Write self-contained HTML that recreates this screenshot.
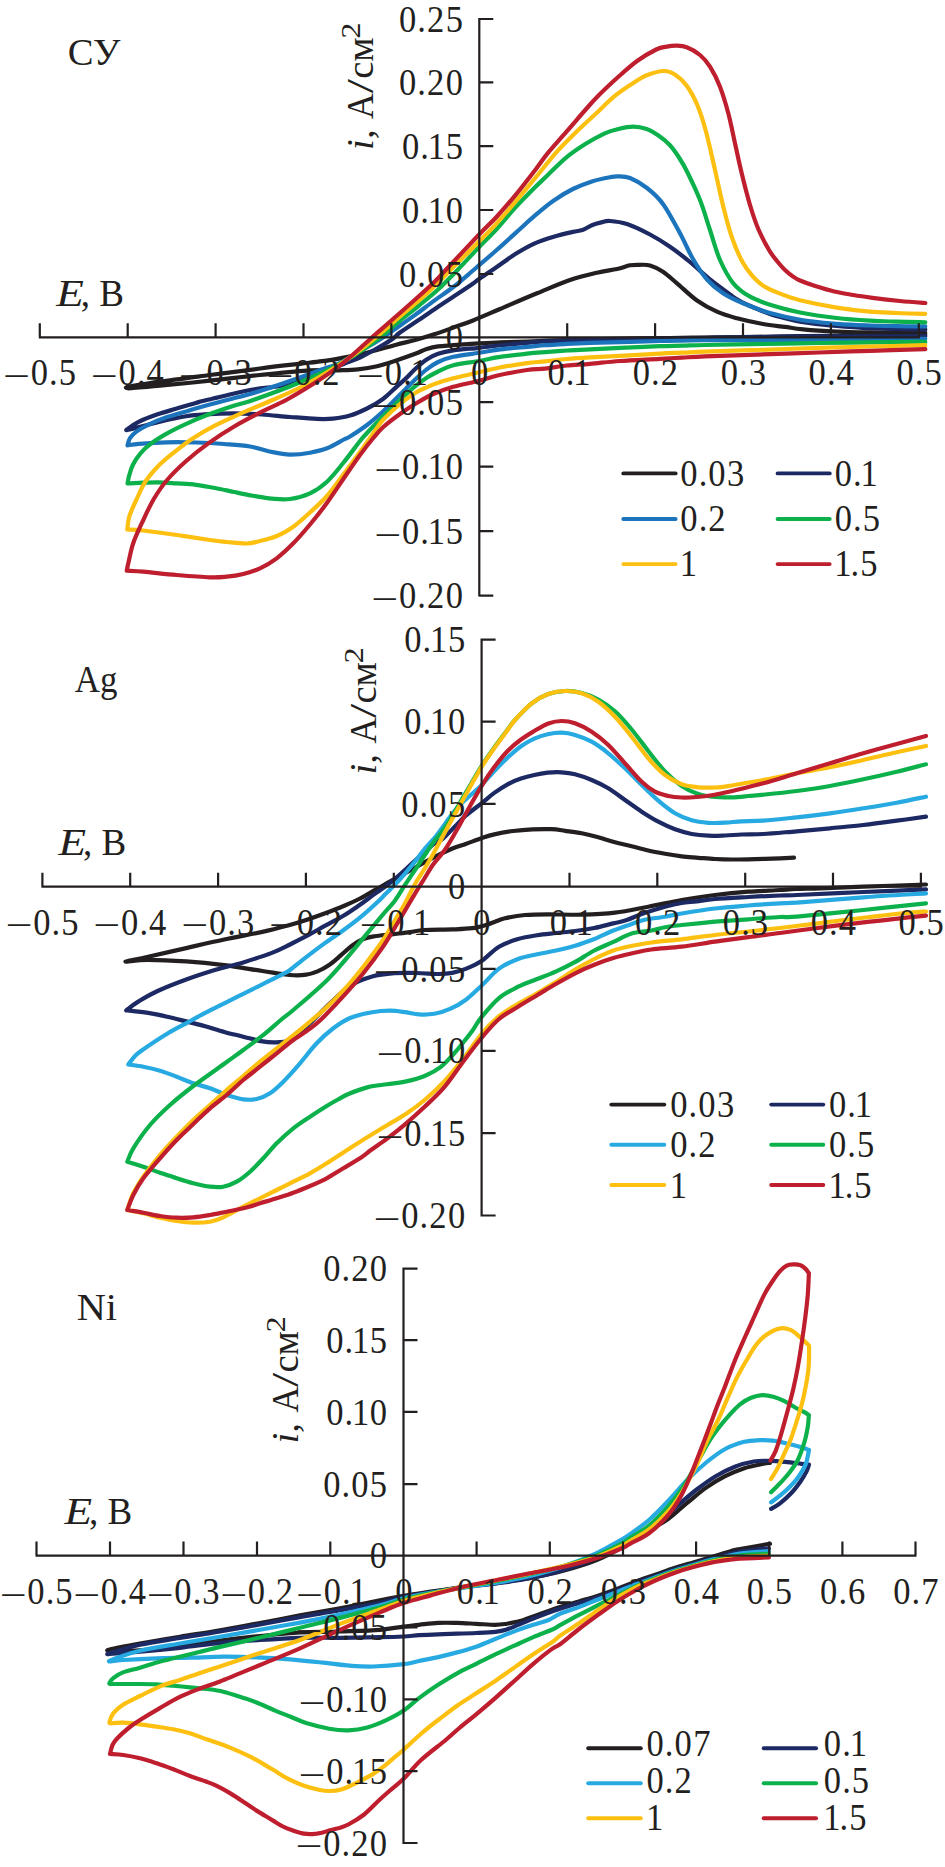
<!DOCTYPE html>
<html lang="ru">
<head>
<meta charset="utf-8">
<title>ЦВА: СУ, Ag, Ni</title>
<style>
html,body{margin:0;padding:0;background:#fff}
body{width:945px;height:1867px;overflow:hidden}
svg{display:block}
text{font-family:"Liberation Serif","Times New Roman",serif;font-size:38.8px;fill:#231f20}
.i{font-style:italic}
.ax{fill:none;stroke:#231f20;stroke-width:2.2}
.cv{fill:none;stroke-width:4.2;stroke-linecap:round;stroke-linejoin:round}
.lg{fill:none;stroke-width:3.9;stroke-linecap:round}
</style>
</head>
<body>
<svg width="945" height="1867" viewBox="0 0 945 1867">
<rect width="945" height="1867" fill="#fff"/>
<g id="chart1">
<path class="cv" stroke="#231f20" d="M925.3 334.8C916.1 334.9 890.9 335.2 870.0 335.4C849.1 335.6 821.2 335.9 800.0 336.2C778.8 336.5 758.8 336.8 743.0 337.0C727.2 337.2 717.2 337.3 705.0 337.5C692.8 337.7 685.0 337.8 670.0 338.0C655.0 338.2 631.7 338.5 615.0 338.8C598.3 339.1 583.7 339.4 570.0 339.8C556.3 340.2 544.7 340.9 533.0 341.3C521.3 341.7 509.0 342.1 500.0 342.4C491.0 342.7 486.8 342.8 479.0 343.3C471.2 343.8 460.1 344.7 453.3 345.2C446.5 345.7 442.5 345.8 438.1 346.4C433.7 347.0 430.5 347.8 426.7 349.0C422.9 350.2 420.3 351.9 415.2 353.8C410.1 355.7 402.5 358.4 396.2 360.5C389.9 362.6 383.5 364.7 377.1 366.2C370.8 367.7 364.5 368.7 358.1 369.4C351.8 370.1 347.0 370.1 339.0 370.3C331.0 370.5 323.2 369.5 310.0 370.3C296.8 371.1 276.7 373.3 260.0 375.0C243.3 376.7 226.7 378.9 210.0 380.7C193.3 382.5 173.6 384.4 160.0 385.7C146.4 387.0 133.6 387.9 128.3 388.3C128.3 388.1 123.0 387.9 128.3 386.8C133.6 385.7 146.4 383.7 160.0 381.7C173.6 379.7 193.3 377.2 210.0 375.0C226.7 372.8 245.0 370.4 260.0 368.5C275.0 366.6 289.6 365.0 300.0 363.8C310.4 362.6 315.1 362.2 322.3 361.2C329.6 360.2 337.2 358.8 343.5 357.6C349.8 356.5 354.4 355.6 360.0 354.3C365.6 353.0 371.0 351.6 377.0 350.0C383.0 348.4 389.8 346.4 396.2 344.7C402.6 343.0 408.8 341.7 415.2 340.0C421.6 338.3 427.9 336.4 434.3 334.3C440.7 332.2 447.0 329.9 453.3 327.6C459.6 325.3 464.6 323.8 472.4 320.7C480.2 317.6 489.2 313.6 500.0 309.0C510.8 304.4 525.3 298.1 537.0 293.3C548.7 288.5 560.0 283.4 570.0 280.0C580.0 276.6 589.2 274.5 597.0 272.7C604.8 270.9 611.5 270.2 617.0 269.0C622.5 267.8 626.2 266.0 630.0 265.3C633.8 264.6 636.7 264.8 640.0 264.8C643.3 264.8 646.2 264.4 650.0 265.5C653.8 266.6 658.5 268.7 663.0 271.7C667.5 274.7 671.3 278.5 677.0 283.3C682.7 288.1 690.3 295.8 697.0 300.5C703.7 305.2 710.3 308.7 717.0 311.7C723.7 314.7 729.3 316.2 737.0 318.3C744.7 320.4 755.0 322.6 763.0 324.0C771.0 325.4 778.3 326.0 785.0 326.9C791.7 327.8 794.3 328.5 803.0 329.3C811.7 330.1 825.8 331.0 837.0 331.5C848.2 332.0 860.0 332.2 870.0 332.4C880.0 332.6 887.8 332.6 897.0 332.7C906.2 332.8 920.6 332.8 925.3 332.8"/>
<path class="cv" stroke="#1c2962" d="M925.3 336.2C916.1 336.2 887.7 336.3 870.0 336.3C852.3 336.3 839.0 336.2 819.0 336.4C799.0 336.5 769.0 336.9 750.0 337.2C731.0 337.4 716.3 337.7 705.0 337.9C693.7 338.1 696.2 337.9 682.0 338.2C667.8 338.5 639.2 339.1 620.0 339.5C600.8 339.9 579.5 340.4 567.0 340.7C554.5 341.0 551.7 341.0 545.0 341.4C538.3 341.8 534.7 342.1 527.0 342.8C519.3 343.5 506.6 344.7 498.6 345.5C490.6 346.3 486.7 347.0 479.1 347.8C471.6 348.6 460.1 349.3 453.3 350.3C446.5 351.3 442.5 352.3 438.1 353.8C433.7 355.3 430.5 357.0 426.7 359.5C422.9 362.0 418.7 365.8 415.2 369.0C411.7 372.2 408.9 375.6 405.7 378.6C402.5 381.6 400.0 383.7 396.2 387.1C392.4 390.5 387.9 395.4 383.0 399.0C378.1 402.6 372.5 405.8 367.0 408.5C361.5 411.2 355.7 413.8 350.0 415.5C344.3 417.2 338.5 418.0 333.0 418.6C327.5 419.2 324.2 419.2 317.0 418.9C309.8 418.6 299.2 417.7 290.0 417.0C280.8 416.3 271.3 415.1 262.0 414.5C252.7 413.9 243.5 413.3 234.0 413.3C224.5 413.3 213.0 413.8 205.0 414.3C197.0 414.8 192.3 415.2 186.0 416.2C179.7 417.1 173.3 418.6 167.0 420.0C160.7 421.4 153.7 423.4 148.0 424.8C142.3 426.2 136.5 427.7 133.0 428.6C129.5 429.5 128.1 429.8 127.1 430.0C127.1 429.9 125.2 430.7 127.1 429.3C129.0 427.9 133.5 424.4 138.6 421.9C143.7 419.4 151.2 416.5 157.6 414.3C163.9 412.1 170.3 410.5 176.7 408.6C183.0 406.7 190.3 404.4 195.7 402.9C201.1 401.4 199.9 401.6 209.0 399.5C218.1 397.4 238.2 392.2 250.0 390.0C261.8 387.8 271.5 387.6 280.0 386.0C288.5 384.4 294.1 382.4 301.2 380.2C308.2 377.9 315.2 375.2 322.3 372.5C329.4 369.8 337.2 366.5 343.5 364.0C349.8 361.5 354.6 360.0 360.0 357.5C365.4 355.0 370.6 352.0 375.9 349.0C381.2 346.0 387.7 342.2 391.7 339.5C395.7 336.8 395.4 335.8 400.0 332.5C404.6 329.2 412.6 324.1 419.0 319.8C425.4 315.5 432.4 310.6 438.1 306.8C443.8 303.0 447.6 300.6 453.3 296.8C459.0 293.0 468.1 287.0 472.4 284.0C476.7 281.0 475.1 281.8 479.1 279.0C483.2 276.2 490.6 271.3 496.7 267.1C502.8 262.9 509.4 257.8 515.7 253.8C522.1 249.8 528.4 246.2 534.8 243.3C541.1 240.5 547.4 238.6 553.8 236.7C560.1 234.8 568.1 233.0 572.9 231.9C577.7 230.8 579.2 231.1 582.4 230.0C585.6 228.9 588.7 226.5 591.9 225.2C595.1 223.9 598.4 223.1 601.4 222.4C604.4 221.7 605.7 220.7 610.0 221.0C614.3 221.3 620.3 221.8 627.0 224.0C633.7 226.2 642.8 230.7 650.0 234.5C657.2 238.3 663.3 242.1 670.0 246.7C676.7 251.3 683.3 256.5 690.0 262.0C696.7 267.5 703.3 274.1 710.0 279.5C716.7 284.9 725.0 290.9 730.0 294.5C735.0 298.1 735.8 298.9 740.0 301.1C744.2 303.4 750.0 305.9 755.0 308.0C760.0 310.1 765.0 312.3 770.0 314.0C775.0 315.7 780.0 317.0 785.0 318.3C790.0 319.6 792.5 320.5 800.0 321.7C807.5 322.9 819.5 324.5 830.0 325.5C840.5 326.5 851.8 327.2 863.0 327.8C874.2 328.4 886.6 328.7 897.0 329.0C907.4 329.3 920.6 329.5 925.3 329.6"/>
<path class="cv" stroke="#1c75bc" d="M925.3 338.8C916.1 338.9 887.7 339.1 870.0 339.3C852.3 339.5 839.0 339.8 819.0 339.9C799.0 340.0 769.0 340.1 750.0 340.1C731.0 340.2 716.3 340.1 705.0 340.2C693.7 340.3 689.5 340.5 682.0 340.6C674.5 340.7 670.3 340.7 660.0 341.0C649.7 341.3 631.7 341.9 620.0 342.2C608.3 342.5 598.8 342.6 590.0 342.9C581.2 343.2 574.5 343.5 567.0 343.9C559.5 344.3 551.6 344.7 545.0 345.2C538.4 345.7 534.8 346.2 527.1 346.9C519.4 347.6 506.6 348.6 498.6 349.6C490.6 350.6 486.7 351.6 479.1 352.8C471.6 354.0 460.1 355.3 453.3 356.8C446.5 358.3 442.5 359.9 438.1 362.0C433.7 364.1 430.5 366.4 426.7 369.3C422.9 372.2 418.7 376.2 415.2 379.5C411.7 382.8 408.9 385.8 405.7 389.0C402.5 392.2 400.0 394.8 396.2 398.5C392.4 402.2 387.9 407.1 383.0 411.5C378.1 415.9 372.5 420.8 367.0 425.0C361.5 429.2 354.0 434.0 350.0 436.5C346.0 439.0 346.8 438.0 343.0 440.0C339.2 442.0 332.5 446.2 327.0 448.3C321.5 450.4 316.2 451.6 310.0 452.7C303.8 453.8 296.3 454.7 290.0 454.6C283.7 454.5 278.7 453.4 272.0 452.0C265.3 450.6 258.0 447.8 250.0 446.5C242.0 445.2 233.0 444.7 224.0 444.0C215.0 443.3 205.5 442.8 196.0 442.5C186.5 442.2 176.5 442.1 167.0 442.3C157.5 442.5 145.6 443.3 139.0 443.8C132.4 444.3 129.4 445.1 127.5 445.3C127.9 444.1 128.5 440.4 130.0 438.1C131.5 435.8 133.7 433.6 136.7 431.4C139.7 429.2 143.0 427.2 148.1 424.8C153.2 422.4 160.8 419.3 167.1 417.1C173.4 414.9 179.2 413.4 186.2 411.4C193.2 409.3 202.0 406.7 209.0 404.8C216.0 402.9 219.5 402.1 228.0 399.8C236.5 397.5 248.0 394.7 260.0 391.0C272.0 387.3 290.0 381.0 300.0 377.5C310.0 374.0 313.5 372.4 320.0 370.0C326.5 367.6 332.6 366.2 339.0 363.3C345.4 360.4 351.8 356.0 358.1 352.3C364.5 348.6 370.8 345.3 377.1 341.3C383.5 337.3 389.9 332.6 396.2 328.2C402.5 323.8 408.8 319.5 415.2 314.9C421.6 310.3 427.9 305.2 434.3 300.6C440.7 296.0 447.0 291.9 453.3 287.0C459.6 282.1 468.1 274.6 472.4 271.0C476.7 267.4 475.1 268.7 479.1 265.2C483.2 261.7 490.6 255.4 496.7 250.0C502.8 244.6 509.4 238.6 515.7 232.9C522.1 227.2 528.4 221.1 534.8 215.7C541.1 210.3 547.4 204.9 553.8 200.5C560.1 196.1 566.5 192.2 572.9 189.0C579.2 185.8 585.7 183.4 591.9 181.4C598.1 179.4 605.6 178.0 610.0 177.2C614.4 176.3 614.8 176.2 618.1 176.3C621.4 176.4 625.2 176.1 630.0 178.0C634.8 179.9 641.5 183.7 647.0 188.0C652.5 192.3 657.5 196.4 663.0 204.0C668.5 211.6 675.0 224.1 680.0 233.3C685.0 242.5 688.5 251.3 693.0 259.0C697.5 266.7 702.0 273.8 707.0 279.5C712.0 285.2 717.0 289.3 723.0 293.3C729.0 297.3 735.2 300.0 743.0 303.3C750.8 306.6 760.0 310.2 770.0 313.0C780.0 315.8 791.8 318.5 803.0 320.3C814.2 322.1 825.8 322.9 837.0 323.8C848.2 324.7 860.0 325.1 870.0 325.5C880.0 325.9 887.8 326.1 897.0 326.2C906.2 326.3 920.6 326.4 925.3 326.4"/>
<path class="cv" stroke="#0db14b" d="M925.3 341.9C916.1 342.0 887.7 342.2 870.0 342.4C852.3 342.6 839.0 342.7 819.0 343.0C799.0 343.3 769.0 343.9 750.0 344.2C731.0 344.5 716.3 344.8 705.0 345.0C693.7 345.2 689.5 345.5 682.0 345.7C674.5 345.9 670.3 345.8 660.0 346.2C649.7 346.6 631.7 347.3 620.0 347.8C608.3 348.3 598.8 348.9 590.0 349.3C581.2 349.8 574.5 350.0 567.0 350.5C559.5 351.0 551.6 351.6 545.0 352.1C538.4 352.6 534.8 352.8 527.1 353.6C519.4 354.5 506.6 356.0 498.6 357.2C490.6 358.4 486.7 359.7 479.1 361.0C471.6 362.3 460.1 363.4 453.3 365.2C446.5 366.9 442.5 369.4 438.1 371.5C433.7 373.6 430.5 375.4 426.7 377.8C422.9 380.2 419.6 382.5 415.2 386.2C410.8 389.9 405.4 394.9 400.0 400.0C394.6 405.1 388.5 411.0 383.0 416.5C377.5 422.0 370.8 428.9 367.0 433.0C363.2 437.1 364.0 435.9 360.0 441.0C356.0 446.1 348.5 456.5 343.0 463.3C337.5 470.1 332.5 476.7 327.0 481.7C321.5 486.7 316.2 490.4 310.0 493.3C303.8 496.2 296.3 498.1 290.0 499.0C283.7 499.9 278.2 499.2 272.0 498.7C265.8 498.2 259.3 496.9 253.0 495.8C246.7 494.7 240.3 493.3 234.0 492.0C227.7 490.7 221.3 489.2 215.0 488.0C208.7 486.8 202.3 485.6 196.0 484.8C189.7 484.0 183.3 483.8 177.0 483.4C170.7 483.0 164.3 482.4 158.0 482.3C151.7 482.2 144.1 482.7 139.0 482.9C133.9 483.1 129.4 483.4 127.5 483.5C127.8 482.3 128.1 479.3 129.0 476.2C129.9 473.1 131.0 468.6 132.9 464.8C134.8 461.0 137.3 457.0 140.5 453.3C143.7 449.6 147.5 446.2 151.9 442.9C156.3 439.6 161.4 436.5 167.1 433.3C172.8 430.1 179.2 427.0 186.2 423.8C193.2 420.6 201.1 417.3 209.0 414.3C216.9 411.3 227.0 407.9 233.8 405.7C240.6 403.5 242.0 403.8 249.7 401.2C257.4 398.6 271.4 393.5 280.0 390.3C288.6 387.1 294.1 384.8 301.2 381.8C308.2 378.8 315.3 375.6 322.3 372.3C329.3 369.0 335.9 366.0 343.0 362.0C350.1 358.0 358.0 353.0 364.7 348.5C371.4 344.0 377.1 339.7 383.0 335.0C388.9 330.3 394.0 325.4 400.0 320.5C406.0 315.6 412.6 310.7 419.0 305.5C425.4 300.3 431.6 295.5 438.1 289.5C444.6 283.5 451.2 276.6 458.0 269.5C464.8 262.4 472.7 253.8 479.1 247.1C485.6 240.3 490.6 235.7 496.7 229.0C502.8 222.3 509.4 214.0 515.7 207.1C522.1 200.2 529.5 192.8 534.8 187.5C540.1 182.2 542.3 180.3 547.6 175.2C552.9 170.1 560.4 162.3 566.7 157.1C573.1 151.9 579.4 147.8 585.7 143.8C592.1 139.8 599.4 135.8 604.8 133.3C610.2 130.9 613.4 130.2 618.1 129.1C622.9 128.0 628.5 126.7 633.3 126.7C638.1 126.7 642.6 127.7 646.7 129.1C650.8 130.5 654.3 132.6 658.1 135.2C661.9 137.8 666.0 141.1 669.5 144.8C673.0 148.5 676.0 152.9 679.0 157.5C682.0 162.1 684.0 165.4 687.5 172.5C691.0 179.6 696.2 190.4 700.0 200.0C703.8 209.6 706.7 220.0 710.0 230.0C713.3 240.0 716.1 251.1 720.0 260.0C723.9 268.9 728.3 277.2 733.3 283.3C738.3 289.4 743.3 292.9 750.0 296.7C756.7 300.4 765.0 303.2 773.3 305.8C781.6 308.4 789.4 310.5 800.0 312.5C810.6 314.5 825.0 316.6 836.7 318.0C848.4 319.4 860.0 320.1 870.0 320.7C880.0 321.3 887.5 321.4 896.7 321.7C905.9 322.0 920.5 322.2 925.3 322.3"/>
<path class="cv" stroke="#fdc010" d="M925.3 345.2C916.1 345.4 887.7 346.1 870.0 346.5C852.3 346.9 839.0 347.3 819.0 347.9C799.0 348.5 769.0 349.6 750.0 350.2C731.0 350.8 716.3 351.3 705.0 351.7C693.7 352.1 689.5 352.4 682.0 352.7C674.5 353.0 670.3 353.1 660.0 353.6C649.7 354.1 631.7 355.2 620.0 355.8C608.3 356.4 598.8 356.9 590.0 357.4C581.2 357.9 574.5 358.3 567.0 359.0C559.5 359.7 551.6 360.7 545.0 361.4C538.4 362.1 534.8 362.1 527.1 363.1C519.4 364.2 506.6 366.2 498.6 367.7C490.6 369.2 486.7 370.5 479.1 372.3C471.6 374.1 460.1 376.6 453.3 378.3C446.5 380.1 442.5 381.3 438.1 382.8C433.7 384.3 430.5 385.6 426.7 387.3C422.9 389.0 419.6 390.2 415.2 393.0C410.8 395.8 405.4 399.5 400.0 404.0C394.6 408.5 386.8 416.0 383.0 420.0C379.2 424.0 380.8 422.7 377.0 428.0C373.2 433.3 365.7 444.2 360.0 452.0C354.3 459.8 348.5 467.7 343.0 475.0C337.5 482.3 332.5 489.8 327.0 496.0C321.5 502.2 315.7 507.3 310.0 512.5C304.3 517.7 298.5 523.1 293.0 527.0C287.5 530.9 282.5 533.7 277.0 536.0C271.5 538.3 265.0 539.8 260.0 541.0C255.0 542.2 252.5 543.3 247.0 543.5C241.5 543.7 233.2 542.6 227.0 542.0C220.8 541.4 218.3 541.2 210.0 540.0C201.7 538.8 188.2 536.6 177.0 535.0C165.8 533.4 151.3 531.4 143.0 530.5C134.7 529.6 129.9 529.7 127.3 529.5C127.5 527.9 128.0 522.8 128.5 520.0C129.0 517.2 129.1 516.5 130.5 513.0C131.9 509.5 134.2 504.2 136.7 499.0C139.1 493.8 141.7 487.3 145.2 481.9C148.7 476.5 153.0 471.5 157.6 466.7C162.2 461.9 167.2 457.9 172.9 453.3C178.6 448.7 184.9 443.6 191.9 439.0C198.9 434.4 206.2 430.1 214.8 425.7C223.4 421.3 233.5 416.8 243.3 412.4C253.1 408.0 264.2 403.7 273.8 399.5C283.4 395.3 293.1 391.1 301.2 387.0C309.3 382.9 315.3 379.3 322.3 375.2C329.3 371.1 335.9 367.1 343.0 362.3C350.1 357.5 358.0 351.6 364.7 346.5C371.4 341.4 377.1 336.5 383.0 331.5C388.9 326.5 394.0 321.7 400.0 316.5C406.0 311.3 413.4 305.4 419.0 300.5C424.6 295.6 427.5 293.0 433.7 287.0C439.9 281.0 448.4 272.1 456.0 264.5C463.6 256.9 472.3 248.3 479.1 241.4C485.9 234.5 490.6 230.0 496.7 223.3C502.8 216.6 509.4 208.9 515.7 201.4C522.1 193.9 527.9 186.8 534.8 178.5C541.7 170.2 550.2 159.2 557.1 151.4C564.0 143.7 569.9 138.2 576.2 132.0C582.6 125.8 588.9 120.2 595.2 114.3C601.6 108.3 607.9 101.5 614.3 96.3C620.6 91.1 627.9 86.5 633.3 83.0C638.7 79.5 641.6 77.3 646.7 75.3C651.8 73.3 659.0 71.1 663.8 71.0C668.5 70.9 671.4 72.3 675.2 74.8C679.0 77.2 683.0 80.6 686.7 85.7C690.4 90.8 694.3 97.9 697.5 105.5C700.7 113.1 703.1 120.8 706.0 131.5C708.9 142.2 712.1 157.5 715.0 170.0C717.9 182.5 720.5 195.6 723.3 206.7C726.1 217.8 728.4 227.3 731.7 236.7C735.0 246.1 738.6 255.5 743.3 263.3C748.0 271.1 754.2 278.4 760.0 283.3C765.8 288.2 771.4 290.1 778.1 292.9C784.8 295.7 790.2 297.8 800.0 300.2C809.8 302.6 825.0 305.7 836.7 307.6C848.4 309.5 860.0 310.8 870.0 311.7C880.0 312.6 887.5 312.6 896.7 313.0C905.9 313.4 920.5 313.7 925.3 313.8"/>
<path class="cv" stroke="#be1e2d" d="M925.3 349.1C916.1 349.4 887.7 350.2 870.0 350.8C852.3 351.4 839.0 351.8 819.0 352.5C799.0 353.2 769.0 354.2 750.0 354.8C731.0 355.4 716.3 355.9 705.0 356.4C693.7 356.9 689.5 357.2 682.0 357.6C674.5 358.0 670.3 358.2 660.0 358.8C649.7 359.4 631.7 360.2 620.0 361.0C608.3 361.8 598.8 363.1 590.0 363.8C581.2 364.6 574.5 364.7 567.0 365.5C559.5 366.3 551.6 367.9 545.0 368.6C538.4 369.4 534.8 368.9 527.1 370.0C519.4 371.1 506.6 373.5 498.6 375.3C490.6 377.1 486.7 378.9 479.1 380.8C471.6 382.7 460.9 384.6 453.3 386.8C445.7 389.0 439.4 391.3 433.3 394.0C427.2 396.7 422.2 399.7 416.7 403.0C411.1 406.3 405.6 410.0 400.0 414.0C394.4 418.0 387.8 423.0 383.3 427.0C378.9 431.0 377.2 433.3 373.3 438.0C369.4 442.7 365.0 448.2 360.0 455.0C355.0 461.8 348.9 470.9 343.3 479.0C337.8 487.1 332.2 495.7 326.7 503.3C321.1 510.9 315.6 517.8 310.0 524.5C304.4 531.2 298.9 537.7 293.3 543.3C287.8 548.9 282.2 554.1 276.7 558.3C271.1 562.5 265.6 565.7 260.0 568.3C254.4 570.9 248.9 572.6 243.3 574.0C237.8 575.4 232.2 576.2 226.7 576.7C221.1 577.2 218.3 577.6 210.0 577.3C201.7 577.0 187.8 575.9 176.7 575.0C165.6 574.1 151.6 572.4 143.3 571.7C135.0 571.0 129.5 570.9 126.7 570.7C127.0 569.5 127.2 567.9 128.3 563.3C129.4 558.7 130.8 550.2 133.3 543.0C135.8 535.8 139.9 527.3 143.3 520.0C146.7 512.7 149.8 505.7 153.8 499.0C157.8 492.3 161.7 486.3 167.1 480.0C172.5 473.7 179.2 467.2 186.2 461.0C193.2 454.8 201.1 448.6 209.0 442.9C216.9 437.2 224.9 431.9 233.8 426.7C242.7 421.4 253.5 415.9 262.4 411.4C271.3 406.9 277.5 404.8 287.1 399.5C296.7 394.2 311.4 385.1 320.0 379.5C328.6 373.9 332.6 371.1 339.0 366.2C345.4 361.3 351.8 355.6 358.1 350.0C364.5 344.4 370.8 338.5 377.1 332.9C383.5 327.3 389.9 321.9 396.2 316.3C402.5 310.7 408.8 305.2 415.2 299.5C421.6 293.8 428.7 287.5 434.3 282.0C439.9 276.5 441.5 274.4 449.0 266.5C456.5 258.6 471.2 242.8 479.1 234.5C487.1 226.2 490.6 223.3 496.7 216.7C502.8 210.1 509.0 202.9 515.7 194.8C522.4 186.7 531.4 174.9 536.7 168.0C542.0 161.1 542.6 159.4 547.6 153.3C552.6 147.2 560.4 138.7 566.7 131.4C573.1 124.1 580.3 115.6 585.7 109.5C591.1 103.4 593.6 100.4 599.0 95.0C604.4 89.6 611.8 82.7 618.1 77.0C624.5 71.3 630.8 65.6 637.1 61.0C643.5 56.4 651.3 51.9 656.2 49.5C661.1 47.1 663.3 47.2 666.7 46.6C670.1 46.0 673.4 45.6 676.7 45.7C680.0 45.8 682.8 45.8 686.7 47.3C690.6 48.8 696.1 51.8 700.0 55.0C703.9 58.2 706.7 61.4 710.0 66.7C713.3 72.0 717.0 78.9 720.0 86.7C723.0 94.5 725.8 103.9 728.3 113.3C730.8 122.7 732.8 133.3 735.0 143.3C737.2 153.3 739.2 163.0 741.7 173.3C744.2 183.6 747.2 195.7 750.0 205.0C752.8 214.3 755.1 221.5 758.3 229.0C761.5 236.5 765.9 244.7 769.0 250.0C772.1 255.3 774.3 257.7 777.0 261.0C779.7 264.3 782.3 267.4 785.0 270.0C787.7 272.6 790.5 274.8 793.0 276.5C795.5 278.2 796.3 278.9 800.0 280.5C803.7 282.1 809.5 284.2 815.2 286.0C820.9 287.8 827.9 290.0 834.3 291.5C840.6 293.0 846.9 293.9 853.3 295.0C859.6 296.1 864.6 296.8 872.4 297.8C880.2 298.8 891.2 300.1 900.0 301.0C908.8 301.9 921.1 302.7 925.3 303.0"/>
<path class="ax" d="M38.8 337.3H919.8M39.8 337.3v-14M127.7 337.3v-14M215.6 337.3v-14M303.5 337.3v-14M391.4 337.3v-14M479.3 337.3v-14M567.2 337.3v-14M655.1 337.3v-14M743.0 337.3v-14M830.9 337.3v-14M918.8 337.3v-14M479.3 18.0V596.6M479.3 595.6h14M479.3 531.1h14M479.3 466.6h14M479.3 402.2h14M479.3 337.3h14M479.3 274.0h14M479.3 210.0h14M479.3 146.1h14M479.3 82.4h14M479.3 19.0h14"/>
<g class="t">
<text transform="scale(0.89 1)" y="385.3"><tspan x="3.30" dy="3.8" textLength="30.40" lengthAdjust="spacingAndGlyphs">−</tspan><tspan x="34.46 55.08 65.92" dy="-3.8">0.5</tspan></text>
<text transform="scale(0.89 1)" y="385.3"><tspan x="102.06" dy="3.8" textLength="30.40" lengthAdjust="spacingAndGlyphs">−</tspan><tspan x="133.22 153.84 164.68" dy="-3.8">0.4</tspan></text>
<text transform="scale(0.89 1)" y="385.3"><tspan x="200.83" dy="3.8" textLength="30.40" lengthAdjust="spacingAndGlyphs">−</tspan><tspan x="231.99 252.60 263.45" dy="-3.8">0.3</tspan></text>
<text transform="scale(0.89 1)" y="385.3"><tspan x="299.59" dy="3.8" textLength="30.40" lengthAdjust="spacingAndGlyphs">−</tspan><tspan x="330.75 351.37 362.21" dy="-3.8">0.2</tspan></text>
<text transform="scale(0.89 1)" y="385.3"><tspan x="401.18" dy="3.8" textLength="30.40" lengthAdjust="spacingAndGlyphs">−</tspan><tspan x="432.34 452.96 461.33" dy="-3.8">0.1</tspan></text>
<text transform="scale(0.89 1)" x="529.18" y="385.3">0</text>
<text transform="scale(0.89 1)" x="615.04 635.65 644.03" y="385.3">0.1</text>
<text transform="scale(0.89 1)" x="710.97 731.59 742.43" y="385.3">0.2</text>
<text transform="scale(0.89 1)" x="809.74 830.36 841.20" y="385.3">0.3</text>
<text transform="scale(0.89 1)" x="908.50 929.12 939.96" y="385.3">0.4</text>
<text transform="scale(0.89 1)" x="1007.27 1027.88 1038.73" y="385.3">0.5</text>
<text transform="scale(0.89 1)" y="608.3"><tspan x="417.12" dy="3.8" textLength="30.40" lengthAdjust="spacingAndGlyphs">−</tspan><tspan x="448.27 468.89 479.73 500.74" dy="-3.8">0.20</tspan></text>
<text transform="scale(0.89 1)" y="543.8"><tspan x="420.49" dy="3.8" textLength="30.40" lengthAdjust="spacingAndGlyphs">−</tspan><tspan x="451.64 472.26 480.63 500.74" dy="-3.8">0.15</tspan></text>
<text transform="scale(0.89 1)" y="479.3"><tspan x="420.49" dy="3.8" textLength="30.40" lengthAdjust="spacingAndGlyphs">−</tspan><tspan x="451.64 472.26 480.63 500.74" dy="-3.8">0.10</tspan></text>
<text transform="scale(0.89 1)" y="414.9"><tspan x="417.12" dy="3.8" textLength="30.40" lengthAdjust="spacingAndGlyphs">−</tspan><tspan x="448.27 468.89 479.73 500.74" dy="-3.8">0.05</tspan></text>
<text transform="scale(0.89 1)" x="500.74" y="350.0">0</text>
<text transform="scale(0.89 1)" x="448.27 468.89 479.73 500.74" y="286.7">0.05</text>
<text transform="scale(0.89 1)" x="451.64 472.26 480.63 500.74" y="222.7">0.10</text>
<text transform="scale(0.89 1)" x="451.64 472.26 480.63 500.74" y="158.8">0.15</text>
<text transform="scale(0.89 1)" x="448.27 468.89 479.73 500.74" y="95.1">0.20</text>
<text transform="scale(0.89 1)" x="448.27 468.89 479.73 500.74" y="31.7">0.25</text>
<text x="67.8" y="65.0" textLength="52.6" lengthAdjust="spacingAndGlyphs">СУ</text>
<text y="305.6"><tspan class="i" x="56.3" textLength="27.6" lengthAdjust="spacingAndGlyphs">E</tspan><tspan x="80.8" textLength="43.2" lengthAdjust="spacingAndGlyphs">, В</tspan></text>
<text transform="translate(372.9 149.9) rotate(-90)" y="0"><tspan class="i" x="0">i,</tspan><tspan x="31.0" textLength="25.7" lengthAdjust="spacingAndGlyphs">А</tspan><tspan x="56.7" textLength="14.3" lengthAdjust="spacingAndGlyphs">/</tspan><tspan x="71.1" textLength="41.5" lengthAdjust="spacingAndGlyphs">см</tspan><tspan x="111.2" dy="-12.7" textLength="16.2" lengthAdjust="spacingAndGlyphs" style="font-size:26.5px">2</tspan></text>
</g>
</g>
<g id="chart2">
<path class="cv" stroke="#231f20" d="M926.0 884.5C915.5 884.9 881.0 886.1 863.3 886.7C845.6 887.3 831.1 887.9 820.0 888.3C808.9 888.7 803.4 888.7 796.7 889.0C790.0 889.3 788.1 889.5 780.0 890.0C771.9 890.5 759.1 890.9 748.3 891.7C737.5 892.5 726.1 893.6 715.0 895.0C703.9 896.4 692.8 898.0 681.7 900.0C670.6 902.0 659.4 904.6 648.3 906.7C637.2 908.8 626.1 911.4 615.0 912.7C603.9 914.0 592.8 914.4 581.7 914.7C570.6 915.0 557.8 914.2 548.3 914.3C538.8 914.3 532.2 914.3 525.0 915.0C517.8 915.7 510.0 917.2 505.0 918.3C500.0 919.4 497.9 920.7 495.0 921.7C492.1 922.7 491.6 923.3 487.8 924.4C484.0 925.5 478.1 927.4 472.2 928.2C466.3 929.0 460.5 929.1 452.4 929.4C444.3 929.7 430.9 929.5 423.8 930.0C416.7 930.5 415.3 931.5 410.0 932.2C404.7 932.9 397.8 933.6 391.9 934.3C386.0 935.0 379.6 935.4 374.8 936.2C370.0 937.0 367.1 937.4 363.3 939.0C359.5 940.6 355.6 943.0 351.9 945.7C348.2 948.4 344.7 952.0 341.0 955.2C337.3 958.4 333.4 962.1 329.5 964.8C325.6 967.5 321.5 969.8 317.6 971.4C313.7 973.0 310.8 974.1 306.2 974.7C301.6 975.3 297.3 975.6 290.0 975.0C282.7 974.4 273.3 972.6 262.4 971.0C251.4 969.4 237.0 966.8 224.3 965.2C211.6 963.6 198.9 962.3 186.2 961.4C173.5 960.5 157.9 959.8 148.1 959.8C138.2 959.8 130.6 961.3 127.1 961.6C127.1 961.5 123.6 962.0 127.1 961.2C130.6 960.4 138.2 958.9 148.1 956.7C157.9 954.5 173.5 951.0 186.2 948.1C198.9 945.2 211.6 942.2 224.3 939.5C237.0 936.8 251.9 934.2 262.4 931.9C272.9 929.6 279.8 927.7 287.1 925.7C294.4 923.7 299.9 922.1 306.2 920.0C312.5 917.9 318.8 915.7 325.2 913.3C331.6 910.9 338.5 908.2 344.3 905.7C350.1 903.2 354.7 901.2 360.0 898.5C365.3 895.8 370.3 892.6 376.2 889.3C382.1 886.0 388.8 882.1 395.2 878.6C401.6 875.1 407.9 871.6 414.3 868.1C420.7 864.6 427.0 860.9 433.3 857.6C439.6 854.3 447.0 850.8 452.4 848.5C457.8 846.2 460.8 845.6 465.7 843.9C470.6 842.2 476.7 839.8 481.5 838.2C486.3 836.6 489.0 835.6 494.3 834.4C499.6 833.2 506.9 831.8 513.3 831.0C519.6 830.2 526.0 829.7 532.4 829.4C538.8 829.1 546.0 829.0 551.4 829.2C556.8 829.4 560.0 830.1 565.0 830.8C570.0 831.5 576.2 832.2 581.7 833.3C587.2 834.4 592.8 835.8 598.3 837.3C603.8 838.8 609.4 840.8 615.0 842.3C620.6 843.8 626.2 844.9 631.7 846.3C637.2 847.7 642.8 849.2 648.3 850.5C653.8 851.8 659.4 852.8 665.0 853.8C670.6 854.8 676.2 855.6 681.7 856.3C687.2 857.0 692.8 857.3 698.3 857.8C703.8 858.2 709.4 858.7 715.0 859.0C720.6 859.3 726.2 859.5 731.7 859.5C737.2 859.5 742.8 859.4 748.3 859.3C753.8 859.2 759.7 859.0 765.0 858.8C770.3 858.6 775.2 858.5 780.0 858.3C784.8 858.1 791.7 857.8 794.0 857.7"/>
<path class="cv" stroke="#1c2962" d="M926.0 889.3C915.5 889.8 884.8 891.0 863.3 892.0C841.8 893.0 810.6 894.4 796.7 895.0C782.8 895.6 788.1 895.2 780.0 895.5C771.9 895.8 759.1 896.4 748.3 897.0C737.5 897.6 723.6 898.3 715.0 899.0C706.4 899.7 702.2 900.6 696.7 901.3C691.2 902.0 687.0 902.1 681.7 903.0C676.4 903.9 671.5 905.0 665.0 906.7C658.5 908.5 649.4 911.3 643.0 913.5C636.6 915.7 631.7 918.4 626.7 920.0C621.8 921.6 618.7 922.1 613.3 923.4C607.9 924.7 600.6 926.7 594.3 928.0C587.9 929.3 581.6 930.2 575.2 931.0C568.9 931.8 562.6 932.3 556.2 933.0C549.9 933.7 543.5 934.2 537.1 935.2C530.8 936.2 524.5 937.1 518.1 939.0C511.8 940.9 505.1 943.0 499.0 946.7C492.9 950.4 487.1 957.3 481.5 961.0C475.9 964.7 470.5 966.9 465.6 968.9C460.7 970.9 456.6 972.0 452.2 972.9C447.8 973.8 444.8 974.0 438.9 974.0C433.0 974.0 424.1 973.1 416.7 973.0C409.3 972.9 401.8 972.6 394.4 973.2C387.0 973.8 379.6 974.4 372.2 976.5C364.8 978.6 357.0 981.5 350.0 986.0C343.0 990.5 336.7 997.1 330.0 1003.3C323.3 1009.5 315.6 1018.0 310.0 1023.3C304.4 1028.6 300.0 1032.1 296.7 1035.0C293.4 1037.9 293.5 1039.3 290.0 1040.5C286.5 1041.7 280.3 1042.2 275.7 1042.4C271.1 1042.6 267.8 1042.4 262.4 1041.4C257.0 1040.5 249.7 1038.3 243.3 1036.7C237.0 1035.1 230.7 1033.7 224.3 1031.9C218.0 1030.2 211.5 1028.0 205.2 1026.2C198.8 1024.5 192.5 1023.0 186.2 1021.4C179.8 1019.8 173.4 1018.1 167.1 1016.7C160.8 1015.3 154.8 1014.0 148.1 1012.9C141.4 1011.8 130.6 1010.7 127.1 1010.3C127.1 1010.2 125.2 1011.2 127.1 1009.7C129.0 1008.2 133.5 1004.5 138.6 1001.4C143.7 998.3 149.7 994.6 157.6 991.0C165.5 987.4 176.7 983.0 186.2 979.5C195.7 976.0 205.3 972.9 214.8 970.0C224.3 967.1 233.8 965.2 243.3 962.4C252.8 959.5 264.1 955.9 271.9 952.9C279.7 949.9 284.3 947.3 290.0 944.5C295.7 941.7 300.3 939.3 306.2 936.2C312.1 933.1 318.8 929.2 325.2 925.7C331.6 922.2 339.0 918.4 344.3 915.2C349.6 912.1 351.8 910.5 357.1 906.8C362.4 903.1 371.4 896.3 376.2 892.9C381.0 889.5 382.5 888.6 385.7 886.2C388.9 883.8 392.0 881.3 395.2 878.6C398.4 875.9 401.6 872.9 404.8 870.0C408.0 867.1 411.1 864.2 414.3 861.4C417.5 858.5 420.6 855.8 423.8 852.9C427.0 850.0 430.1 846.7 433.3 844.3C436.5 841.9 439.1 841.8 442.9 838.6C446.7 835.4 452.4 829.0 456.2 825.2C460.0 821.4 461.5 819.4 465.7 815.7C469.9 812.1 476.7 807.1 481.5 803.3C486.3 799.5 489.9 796.1 494.3 792.9C498.7 789.7 503.2 786.7 507.6 784.3C512.1 781.9 516.5 780.1 521.0 778.6C525.5 777.1 529.9 776.0 534.3 775.0C538.7 774.0 543.0 773.2 547.6 772.7C552.2 772.2 557.1 772.0 561.7 772.3C566.3 772.6 570.0 773.0 575.0 774.3C580.0 775.6 586.2 777.7 591.7 780.0C597.2 782.3 602.8 785.0 608.3 788.3C613.8 791.6 619.4 796.1 625.0 800.0C630.6 803.9 636.2 808.1 641.7 811.7C647.2 815.3 652.8 818.8 658.3 821.7C663.8 824.6 669.4 827.2 675.0 829.3C680.6 831.3 686.2 832.9 691.7 834.0C697.2 835.1 702.8 835.5 708.3 835.7C713.8 836.0 719.4 835.7 725.0 835.5C730.6 835.3 735.3 834.8 741.7 834.5C748.1 834.2 754.1 834.5 763.3 834.0C772.5 833.5 785.6 832.2 796.7 831.3C807.8 830.3 818.9 829.3 830.0 828.3C841.1 827.2 852.2 826.3 863.3 825.0C874.4 823.7 886.2 822.1 896.7 820.7C907.2 819.3 921.1 817.4 926.0 816.7"/>
<path class="cv" stroke="#27aae1" d="M926.0 893.3C915.5 894.0 884.8 895.7 863.3 897.3C841.8 898.9 810.6 901.7 796.7 902.7C782.8 903.7 788.1 902.8 780.0 903.3C771.9 903.8 759.1 904.6 748.3 905.5C737.5 906.4 726.1 907.2 715.0 908.5C703.9 909.8 690.0 912.1 681.7 913.5C673.4 914.9 671.3 915.6 665.0 916.7C658.7 917.8 649.2 918.8 643.8 920.0C638.4 921.2 637.5 922.0 632.4 923.8C627.3 925.5 619.6 928.0 613.3 930.5C606.9 933.0 600.6 936.5 594.3 939.0C587.9 941.5 581.6 943.8 575.2 945.7C568.9 947.6 562.6 949.1 556.2 950.5C549.9 951.9 543.5 952.9 537.1 954.3C530.8 955.7 524.5 956.6 518.1 959.0C511.8 961.4 505.1 964.1 499.0 968.6C492.9 973.1 487.1 980.5 481.5 985.7C475.9 990.9 470.9 996.1 465.6 1000.0C460.4 1003.9 455.2 1006.6 450.0 1008.9C444.8 1011.2 439.6 1012.9 434.4 1013.8C429.2 1014.7 423.7 1014.7 418.9 1014.4C414.1 1014.1 410.4 1012.8 405.6 1012.2C400.8 1011.6 395.6 1010.7 390.0 1010.7C384.4 1010.7 378.9 1011.0 372.2 1012.2C365.5 1013.4 356.5 1015.3 350.0 1018.0C343.5 1020.7 338.9 1024.1 333.3 1028.3C327.8 1032.5 322.2 1037.5 316.7 1043.3C311.1 1049.1 305.6 1056.9 300.0 1063.3C294.4 1069.7 288.3 1076.7 283.3 1081.7C278.3 1086.7 274.4 1090.4 270.0 1093.3C265.6 1096.2 261.1 1098.0 256.7 1099.0C252.2 1100.0 248.3 1100.0 243.3 1099.3C238.3 1098.6 232.2 1096.8 226.7 1095.0C221.1 1093.2 215.6 1090.2 210.0 1088.3C204.4 1086.3 198.9 1085.2 193.3 1083.3C187.8 1081.4 182.2 1078.8 176.7 1076.7C171.1 1074.6 165.6 1072.4 160.0 1070.7C154.4 1069.0 148.6 1067.7 143.3 1066.7C138.0 1065.7 130.8 1064.9 128.3 1064.5C129.4 1063.1 132.7 1058.4 135.0 1056.0C137.3 1053.6 137.1 1053.7 142.4 1050.0C147.8 1046.3 159.8 1038.2 167.1 1033.8C174.4 1029.3 179.8 1026.8 186.2 1023.3C192.5 1019.8 198.8 1016.2 205.2 1012.9C211.5 1009.6 218.0 1006.5 224.3 1003.3C230.7 1000.1 237.0 997.0 243.3 993.8C249.7 990.6 256.0 987.5 262.4 984.3C268.8 981.1 276.8 977.2 281.4 974.8C286.0 972.4 285.9 973.0 290.0 970.0C294.1 967.0 300.3 961.6 306.2 957.1C312.1 952.6 318.8 947.5 325.2 942.9C331.6 938.3 337.9 934.2 344.3 929.5C350.7 924.8 358.0 919.2 363.3 914.8C368.6 910.4 372.5 906.8 376.2 903.3C379.9 899.8 382.5 897.0 385.7 893.8C388.9 890.6 392.0 887.6 395.2 884.3C398.4 881.0 401.6 877.4 404.8 873.8C408.0 870.1 411.1 866.4 414.3 862.4C417.5 858.4 420.0 854.6 423.8 850.0C427.6 845.4 433.3 839.6 437.1 834.8C440.9 830.0 443.5 825.7 446.7 821.4C449.9 817.1 453.0 812.6 456.2 809.0C459.4 805.4 462.5 802.5 465.7 799.5C468.9 796.5 472.6 793.4 475.2 791.0C477.8 788.6 478.3 788.5 481.5 785.2C484.7 781.9 489.9 775.6 494.3 771.0C498.7 766.4 503.2 761.7 507.6 757.6C512.1 753.5 516.5 749.4 521.0 746.2C525.5 743.0 529.9 740.6 534.3 738.6C538.7 736.6 543.0 735.2 547.6 734.2C552.2 733.2 557.1 732.6 561.7 732.7C566.3 732.8 570.0 733.5 575.0 735.0C580.0 736.5 586.2 738.7 591.7 741.7C597.2 744.8 602.8 748.9 608.3 753.3C613.8 757.7 619.4 763.0 625.0 768.3C630.6 773.6 636.2 779.6 641.7 785.0C647.2 790.4 652.8 796.0 658.3 800.7C663.8 805.4 669.4 810.0 675.0 813.3C680.6 816.6 686.2 818.7 691.7 820.3C697.2 821.9 702.8 822.4 708.3 822.8C713.8 823.2 719.4 823.0 725.0 822.7C730.6 822.5 735.3 821.6 741.7 821.3C748.1 821.0 754.1 821.4 763.3 820.7C772.5 820.0 785.6 818.5 796.7 817.3C807.8 816.1 818.9 814.8 830.0 813.3C841.1 811.8 852.2 810.1 863.3 808.3C874.4 806.5 886.2 804.6 896.7 802.7C907.2 800.8 921.1 797.7 926.0 796.7"/>
<path class="cv" stroke="#0db14b" d="M926.0 903.3C915.5 904.4 884.8 907.8 863.3 910.0C841.8 912.2 810.6 915.5 796.7 916.7C782.8 917.9 788.1 916.6 780.0 917.0C771.9 917.4 759.1 918.5 748.3 919.3C737.5 920.1 726.1 920.8 715.0 921.7C703.9 922.7 690.0 924.1 681.7 925.0C673.4 925.9 670.0 926.4 665.0 927.3C660.0 928.2 656.8 929.5 651.4 930.5C646.0 931.5 638.8 931.4 632.4 933.3C626.0 935.2 619.6 939.0 613.3 941.9C606.9 944.8 600.6 947.2 594.3 950.5C587.9 953.8 581.6 958.4 575.2 961.9C568.9 965.4 562.6 968.5 556.2 971.4C549.9 974.2 543.5 976.5 537.1 979.0C530.8 981.5 524.5 983.5 518.1 986.7C511.8 989.9 505.1 993.0 499.0 998.1C492.9 1003.2 485.9 1011.8 481.5 1017.1C477.1 1022.4 475.9 1025.8 472.9 1030.0C469.9 1034.2 466.5 1038.4 463.3 1042.4C460.1 1046.4 457.6 1049.7 453.8 1053.8C450.0 1057.9 445.3 1063.4 440.5 1067.1C435.7 1070.8 430.9 1073.3 425.2 1075.7C419.5 1078.1 412.5 1080.0 406.2 1081.4C399.9 1082.8 393.5 1083.3 387.1 1084.3C380.8 1085.2 374.5 1085.5 368.1 1087.1C361.8 1088.7 354.0 1091.7 349.0 1093.8C344.0 1095.9 341.7 1097.5 338.0 1099.5C334.3 1101.5 331.4 1103.1 326.7 1106.0C322.0 1108.9 315.6 1113.0 310.0 1116.7C304.4 1120.4 298.9 1123.9 293.3 1128.3C287.8 1132.7 281.7 1138.3 276.7 1143.3C271.7 1148.3 267.8 1153.6 263.3 1158.3C258.9 1163.0 254.4 1167.8 250.0 1171.7C245.6 1175.6 241.1 1179.2 236.7 1181.7C232.2 1184.2 227.8 1185.9 223.3 1186.7C218.9 1187.5 215.0 1187.3 210.0 1186.7C205.0 1186.1 198.9 1184.7 193.3 1183.3C187.8 1181.9 182.2 1180.1 176.7 1178.3C171.1 1176.5 165.6 1174.6 160.0 1172.7C154.4 1170.8 148.8 1168.5 143.3 1166.7C137.9 1164.9 130.0 1162.5 127.3 1161.7C128.3 1159.5 129.5 1154.4 133.3 1148.3C137.1 1142.2 143.9 1132.2 150.0 1125.0C156.1 1117.8 162.8 1111.5 170.0 1105.0C177.2 1098.5 183.9 1093.2 193.3 1086.0C202.8 1078.8 218.4 1068.0 226.7 1062.0C235.0 1056.0 237.4 1054.4 243.3 1050.0C249.2 1045.6 256.0 1040.8 262.4 1035.7C268.8 1030.6 276.2 1023.8 281.4 1019.5C286.5 1015.2 286.0 1016.3 293.3 1010.0C300.6 1003.7 316.7 990.1 325.2 981.9C333.7 973.7 337.9 968.3 344.3 961.0C350.7 953.7 357.0 945.7 363.3 938.1C369.6 930.5 377.1 921.5 382.4 915.2C387.7 908.9 391.5 905.2 395.2 900.2C398.9 895.2 401.6 890.1 404.8 885.2C408.0 880.3 411.1 875.8 414.3 871.0C417.5 866.2 420.6 861.5 423.8 856.7C427.0 851.9 429.5 847.6 433.3 842.4C437.1 837.1 441.3 833.5 446.7 825.2C452.1 817.0 459.9 802.7 465.7 792.9C471.5 783.1 476.7 773.8 481.5 766.2C486.3 758.6 489.9 753.6 494.3 747.5C498.7 741.4 504.2 734.1 507.6 729.5C511.1 724.9 511.0 724.4 515.0 720.0C519.0 715.6 526.2 707.6 531.7 703.3C537.2 699.0 542.8 696.0 548.3 694.0C553.8 692.0 559.4 691.2 565.0 691.0C570.6 690.8 576.2 691.6 581.7 693.0C587.2 694.4 592.8 696.5 598.3 699.5C603.8 702.5 609.4 706.3 615.0 711.3C620.6 716.3 626.2 722.9 631.7 729.5C637.2 736.1 642.8 744.0 648.3 751.0C653.8 758.0 659.4 765.7 665.0 771.5C670.6 777.3 676.2 782.2 681.7 786.0C687.2 789.8 692.8 792.2 698.3 794.0C703.8 795.8 709.4 796.5 715.0 797.0C720.6 797.5 726.2 797.5 731.7 797.3C737.2 797.1 742.8 796.5 748.3 796.0C753.8 795.5 756.9 795.3 765.0 794.5C773.1 793.7 785.9 792.4 796.7 791.0C807.5 789.6 818.9 788.0 830.0 786.0C841.1 784.0 852.2 781.7 863.3 779.3C874.4 776.9 886.2 774.2 896.7 771.7C907.2 769.2 921.1 765.5 926.0 764.3"/>
<path class="cv" stroke="#fdc010" d="M926.0 911.5C921.7 911.8 909.3 912.6 900.0 913.5C890.7 914.4 880.0 915.8 870.0 917.0C860.0 918.2 850.0 919.3 840.0 920.5C830.0 921.7 820.0 923.0 810.0 924.3C800.0 925.5 790.3 926.8 780.0 928.0C769.7 929.2 759.1 930.3 748.3 931.5C737.5 932.7 726.1 933.7 715.0 935.0C703.9 936.3 692.3 938.0 681.7 939.3C671.1 940.5 659.6 941.4 651.4 942.5C643.2 943.6 638.8 944.4 632.4 945.7C626.0 947.0 619.6 948.3 613.3 950.5C606.9 952.7 600.6 955.8 594.3 959.0C587.9 962.2 581.6 965.7 575.2 969.5C568.9 973.3 562.6 977.9 556.2 981.9C549.9 985.9 543.5 989.6 537.1 993.3C530.8 996.9 524.5 1000.0 518.1 1003.8C511.8 1007.6 505.1 1011.2 499.0 1016.2C492.9 1021.2 487.4 1026.9 481.5 1034.0C475.6 1041.1 469.5 1050.7 463.3 1058.6C457.1 1066.5 450.7 1074.6 444.3 1081.4C437.9 1088.2 431.6 1094.1 425.2 1099.5C418.8 1104.9 412.5 1109.5 406.2 1113.8C399.9 1118.1 393.5 1121.4 387.1 1125.2C380.8 1129.0 374.8 1132.6 368.1 1136.7C361.4 1140.8 354.0 1145.6 347.1 1150.0C340.2 1154.4 332.9 1159.4 326.7 1163.3C320.5 1167.2 315.6 1170.2 310.0 1173.3C304.4 1176.4 298.9 1178.9 293.3 1181.7C287.8 1184.5 282.2 1187.2 276.7 1190.0C271.1 1192.8 265.6 1195.5 260.0 1198.3C254.4 1201.1 249.4 1203.5 243.3 1206.7C237.2 1209.9 228.9 1214.8 223.3 1217.3C217.8 1219.8 215.0 1220.8 210.0 1221.7C205.0 1222.6 198.9 1222.8 193.3 1222.7C187.8 1222.6 182.2 1221.8 176.7 1221.0C171.1 1220.2 165.6 1219.0 160.0 1217.7C154.4 1216.4 148.8 1214.6 143.3 1213.3C137.9 1212.0 130.0 1210.5 127.3 1210.0C128.3 1207.2 130.6 1198.8 133.3 1193.3C136.0 1187.8 138.9 1183.1 143.3 1176.7C147.8 1170.3 154.4 1161.7 160.0 1155.0C165.6 1148.3 171.1 1142.5 176.7 1136.7C182.2 1130.9 187.8 1125.3 193.3 1120.0C198.9 1114.7 204.4 1110.0 210.0 1105.0C215.6 1100.0 221.1 1094.8 226.7 1090.0C232.2 1085.2 237.8 1080.7 243.3 1076.0C248.9 1071.3 254.4 1066.3 260.0 1061.7C265.6 1057.1 270.0 1053.6 276.7 1048.3C283.4 1043.0 294.1 1034.7 300.0 1030.0C305.9 1025.3 307.7 1023.6 311.9 1020.0C316.1 1016.4 319.8 1013.7 325.2 1008.6C330.6 1003.5 337.9 996.5 344.3 989.5C350.7 982.5 357.0 974.8 363.3 966.7C369.6 958.6 377.1 948.8 382.4 941.0C387.7 933.2 391.5 926.2 395.2 920.0C398.9 913.8 401.6 909.6 404.8 903.8C408.0 898.0 411.1 890.8 414.3 885.2C417.5 879.6 420.6 875.2 423.8 870.0C427.0 864.8 429.5 860.6 433.3 853.8C437.1 847.0 442.9 836.0 446.7 829.0C450.5 822.0 453.0 817.6 456.2 811.9C459.4 806.2 461.5 802.3 465.7 794.8C469.9 787.3 476.7 774.9 481.5 767.1C486.3 759.3 489.9 754.3 494.3 748.1C498.7 741.9 504.2 734.7 507.6 730.0C511.1 725.3 511.0 724.5 515.0 720.0C519.0 715.5 526.2 707.6 531.7 703.3C537.2 699.0 542.8 696.0 548.3 694.0C553.8 692.0 559.4 691.1 565.0 691.0C570.6 690.9 576.2 691.5 581.7 693.3C587.2 695.1 592.8 697.8 598.3 701.7C603.8 705.6 609.4 710.9 615.0 716.7C620.6 722.5 626.2 729.8 631.7 736.7C637.2 743.6 642.8 751.9 648.3 758.3C653.8 764.7 659.4 770.7 665.0 775.0C670.6 779.3 676.2 782.2 681.7 784.3C687.2 786.3 692.8 786.8 698.3 787.3C703.8 787.8 709.4 787.8 715.0 787.5C720.6 787.2 726.2 786.3 731.7 785.5C737.2 784.7 743.0 783.4 748.3 782.5C753.6 781.6 755.2 781.5 763.3 780.0C771.4 778.5 785.6 775.4 796.7 773.3C807.8 771.2 818.9 769.5 830.0 767.3C841.1 765.1 852.2 762.5 863.3 760.0C874.4 757.5 886.2 754.6 896.7 752.3C907.2 750.0 921.1 747.0 926.0 746.0"/>
<path class="cv" stroke="#be1e2d" d="M926.0 915.7C921.7 916.1 909.3 917.3 900.0 918.3C890.7 919.3 880.0 920.6 870.0 921.7C860.0 922.9 850.0 924.0 840.0 925.2C830.0 926.4 820.0 927.7 810.0 929.0C800.0 930.3 790.3 931.6 780.0 933.0C769.7 934.4 759.1 935.6 748.3 937.1C737.5 938.6 726.1 940.1 715.0 941.7C703.9 943.3 692.3 945.4 681.7 946.7C671.1 948.0 659.6 948.4 651.4 949.5C643.2 950.6 638.8 951.9 632.4 953.3C626.0 954.7 619.6 956.2 613.3 958.1C606.9 960.0 600.6 962.3 594.3 964.8C587.9 967.3 581.6 970.1 575.2 973.3C568.9 976.5 562.6 980.1 556.2 983.8C549.9 987.4 543.5 991.4 537.1 995.2C530.8 999.0 524.5 1002.7 518.1 1006.7C511.8 1010.7 505.1 1013.8 499.0 1019.0C492.9 1024.2 487.4 1030.9 481.5 1038.0C475.6 1045.1 469.5 1053.2 463.3 1061.4C457.1 1069.6 450.7 1079.6 444.3 1087.1C437.9 1094.6 431.6 1100.2 425.2 1106.2C418.8 1112.2 412.5 1117.9 406.2 1123.3C399.9 1128.7 393.0 1134.1 387.1 1138.6C381.2 1143.0 375.5 1146.7 371.0 1150.0C366.5 1153.3 364.6 1155.2 360.0 1158.3C355.4 1161.3 348.9 1165.0 343.3 1168.3C337.8 1171.6 332.2 1175.3 326.7 1178.3C321.1 1181.2 315.6 1183.6 310.0 1186.0C304.4 1188.4 298.9 1190.7 293.3 1192.7C287.8 1194.8 282.2 1196.5 276.7 1198.3C271.1 1200.1 265.6 1201.6 260.0 1203.3C254.4 1205.0 248.9 1206.9 243.3 1208.3C237.8 1209.7 232.2 1210.6 226.7 1211.7C221.1 1212.8 215.6 1214.1 210.0 1215.0C204.4 1215.9 198.9 1216.8 193.3 1217.3C187.8 1217.8 182.2 1217.9 176.7 1217.7C171.1 1217.5 165.6 1216.8 160.0 1216.0C154.4 1215.2 148.8 1213.7 143.3 1212.7C137.9 1211.7 130.0 1210.5 127.3 1210.0C128.3 1207.5 130.6 1200.3 133.3 1195.0C136.0 1189.7 138.9 1184.4 143.3 1178.3C147.8 1172.2 154.4 1164.7 160.0 1158.3C165.6 1151.9 171.1 1145.7 176.7 1140.0C182.2 1134.3 187.8 1129.3 193.3 1124.0C198.9 1118.7 204.4 1113.1 210.0 1108.3C215.6 1103.5 221.1 1099.7 226.7 1095.0C232.2 1090.3 237.8 1084.7 243.3 1080.0C248.9 1075.3 254.4 1071.2 260.0 1066.7C265.6 1062.2 271.1 1057.8 276.7 1053.3C282.2 1048.8 288.3 1043.7 293.3 1040.0C298.3 1036.3 302.2 1034.3 306.7 1031.0C311.2 1027.7 314.2 1026.0 320.5 1020.0C326.8 1014.0 337.2 1003.0 344.3 995.2C351.4 987.4 357.0 981.2 363.3 973.3C369.6 965.4 377.1 955.3 382.4 947.6C387.7 939.9 391.5 933.1 395.2 927.0C398.9 920.9 401.6 916.4 404.8 911.0C408.0 905.6 411.1 900.0 414.3 894.8C417.5 889.5 420.6 884.6 423.8 879.5C427.0 874.4 429.8 869.2 433.3 864.3C436.8 859.4 441.0 855.5 444.8 850.0C448.6 844.5 452.7 837.0 456.2 831.0C459.7 825.0 461.5 821.3 465.7 813.8C469.9 806.3 476.7 794.0 481.5 786.2C486.3 778.4 489.9 773.0 494.3 767.1C498.7 761.2 503.2 755.6 507.6 751.0C512.1 746.4 516.5 742.8 521.0 739.5C525.5 736.2 529.8 733.7 534.3 731.0C538.8 728.3 543.7 725.2 548.3 723.5C552.9 721.8 557.2 721.0 561.7 721.0C566.2 721.0 570.0 721.5 575.0 723.3C580.0 725.1 586.2 728.1 591.7 731.7C597.2 735.3 602.8 739.7 608.3 745.0C613.8 750.3 619.4 757.2 625.0 763.3C630.6 769.4 636.7 777.0 641.7 781.7C646.7 786.4 650.6 789.3 655.0 791.7C659.4 794.1 663.8 795.0 668.3 796.0C672.8 797.0 677.0 797.3 681.7 797.5C686.4 797.7 691.4 797.4 696.7 797.0C702.0 796.6 707.8 795.9 713.3 795.0C718.8 794.1 721.7 793.5 730.0 791.5C738.3 789.5 752.2 786.3 763.3 783.3C774.4 780.3 785.6 776.6 796.7 773.3C807.8 770.0 818.9 766.6 830.0 763.3C841.1 760.0 852.2 756.5 863.3 753.3C874.4 750.1 886.2 746.9 896.7 744.0C907.2 741.1 921.1 737.3 926.0 736.0"/>
<path class="ax" d="M41.4 886.7H921.9M42.4 886.7v-14M130.2 886.7v-14M218.1 886.7v-14M305.9 886.7v-14M393.8 886.7v-14M481.6 886.7v-14M569.5 886.7v-14M657.3 886.7v-14M745.2 886.7v-14M833.0 886.7v-14M920.9 886.7v-14M481.6 638.6V1216.5M481.6 1215.5h14M481.6 1133.2h14M481.6 1050.8h14M481.6 968.9h14M481.6 886.7h14M481.6 803.9h14M481.6 721.7h14M481.6 639.6h14"/>
<g class="t">
<text transform="scale(0.89 1)" y="934.7"><tspan x="6.22" dy="3.8" textLength="30.40" lengthAdjust="spacingAndGlyphs">−</tspan><tspan x="37.38 58.00 68.84" dy="-3.8">0.5</tspan></text>
<text transform="scale(0.89 1)" y="934.7"><tspan x="104.87" dy="3.8" textLength="30.40" lengthAdjust="spacingAndGlyphs">−</tspan><tspan x="136.03 156.65 167.49" dy="-3.8">0.4</tspan></text>
<text transform="scale(0.89 1)" y="934.7"><tspan x="203.64" dy="3.8" textLength="30.40" lengthAdjust="spacingAndGlyphs">−</tspan><tspan x="234.79 255.41 266.26" dy="-3.8">0.3</tspan></text>
<text transform="scale(0.89 1)" y="934.7"><tspan x="302.29" dy="3.8" textLength="30.40" lengthAdjust="spacingAndGlyphs">−</tspan><tspan x="333.45 354.06 364.91" dy="-3.8">0.2</tspan></text>
<text transform="scale(0.89 1)" y="934.7"><tspan x="403.88" dy="3.8" textLength="30.40" lengthAdjust="spacingAndGlyphs">−</tspan><tspan x="435.04 455.65 464.03" dy="-3.8">0.1</tspan></text>
<text transform="scale(0.89 1)" x="531.76" y="934.7">0</text>
<text transform="scale(0.89 1)" x="617.62 638.24 646.61" y="934.7">0.1</text>
<text transform="scale(0.89 1)" x="713.45 734.06 744.91" y="934.7">0.2</text>
<text transform="scale(0.89 1)" x="812.21 832.83 843.67" y="934.7">0.3</text>
<text transform="scale(0.89 1)" x="910.86 931.48 942.32" y="934.7">0.4</text>
<text transform="scale(0.89 1)" x="1009.63 1030.24 1041.09" y="934.7">0.5</text>
<text transform="scale(0.89 1)" y="1228.2"><tspan x="419.70" dy="3.8" textLength="30.40" lengthAdjust="spacingAndGlyphs">−</tspan><tspan x="450.86 471.48 482.32 503.33" dy="-3.8">0.20</tspan></text>
<text transform="scale(0.89 1)" y="1145.9"><tspan x="423.07" dy="3.8" textLength="30.40" lengthAdjust="spacingAndGlyphs">−</tspan><tspan x="454.23 474.85 483.22 503.33" dy="-3.8">0.15</tspan></text>
<text transform="scale(0.89 1)" y="1063.5"><tspan x="423.07" dy="3.8" textLength="30.40" lengthAdjust="spacingAndGlyphs">−</tspan><tspan x="454.23 474.85 483.22 503.33" dy="-3.8">0.10</tspan></text>
<text transform="scale(0.89 1)" y="981.6"><tspan x="419.70" dy="3.8" textLength="30.40" lengthAdjust="spacingAndGlyphs">−</tspan><tspan x="450.86 471.48 482.32 503.33" dy="-3.8">0.05</tspan></text>
<text transform="scale(0.89 1)" x="503.33" y="899.4">0</text>
<text transform="scale(0.89 1)" x="450.86 471.48 482.32 503.33" y="816.6">0.05</text>
<text transform="scale(0.89 1)" x="454.23 474.85 483.22 503.33" y="734.4">0.10</text>
<text transform="scale(0.89 1)" x="454.23 474.85 483.22 503.33" y="652.3">0.15</text>
<text x="74.8" y="691.5" textLength="42.6" lengthAdjust="spacingAndGlyphs">Ag</text>
<text y="854.5"><tspan class="i" x="58.6" textLength="27.6" lengthAdjust="spacingAndGlyphs">E</tspan><tspan x="83.1" textLength="43.2" lengthAdjust="spacingAndGlyphs">, В</tspan></text>
<text transform="translate(376.1 774.6) rotate(-90)" y="0"><tspan class="i" x="0">i,</tspan><tspan x="31.0" textLength="25.7" lengthAdjust="spacingAndGlyphs">А</tspan><tspan x="56.7" textLength="14.3" lengthAdjust="spacingAndGlyphs">/</tspan><tspan x="71.1" textLength="41.5" lengthAdjust="spacingAndGlyphs">см</tspan><tspan x="111.2" dy="-12.7" textLength="16.2" lengthAdjust="spacingAndGlyphs" style="font-size:26.5px">2</tspan></text>
</g>
</g>
<g id="chart3">
<path class="cv" stroke="#231f20" d="M770.0 1543.8C765.0 1544.7 746.4 1547.8 740.0 1549.0C733.6 1550.2 736.0 1549.7 731.4 1551.0C726.8 1552.3 718.8 1554.8 712.4 1556.7C706.0 1558.6 699.6 1560.5 693.3 1562.4C686.9 1564.3 680.6 1566.0 674.3 1568.1C667.9 1570.2 661.6 1572.6 655.2 1574.8C648.9 1577.0 642.6 1579.0 636.2 1581.4C629.9 1583.8 623.5 1586.6 617.1 1589.0C610.8 1591.4 604.5 1593.6 598.1 1595.7C591.8 1597.8 585.4 1599.5 579.0 1601.4C572.6 1603.3 565.7 1605.3 560.0 1607.1C554.3 1608.9 551.0 1610.1 545.0 1612.3C539.0 1614.5 528.3 1618.5 523.8 1620.0C519.3 1621.5 521.0 1620.9 518.1 1621.5C515.2 1622.1 510.5 1623.2 506.7 1623.8C502.9 1624.3 500.3 1624.8 495.2 1624.8C490.1 1624.8 482.5 1624.1 476.2 1623.8C469.9 1623.5 463.5 1623.1 457.1 1622.9C450.8 1622.8 444.5 1622.6 438.1 1622.9C431.8 1623.2 424.8 1624.2 419.0 1624.8C413.2 1625.4 410.0 1625.8 403.5 1626.6C397.0 1627.4 390.6 1629.0 380.0 1629.8C369.4 1630.6 353.3 1631.0 340.0 1631.5C326.7 1632.0 313.3 1631.8 300.0 1632.5C286.7 1633.2 273.3 1634.7 260.0 1636.0C246.7 1637.3 233.3 1638.8 220.0 1640.5C206.7 1642.2 193.3 1644.4 180.0 1646.0C166.7 1647.6 151.8 1649.4 140.0 1650.3C128.2 1651.2 114.6 1651.3 109.5 1651.5C109.5 1651.2 104.4 1650.8 109.5 1649.5C114.6 1648.2 128.2 1645.6 140.0 1643.5C151.8 1641.4 166.7 1638.9 180.0 1636.7C193.3 1634.5 206.7 1632.5 220.0 1630.2C233.3 1627.9 246.7 1625.5 260.0 1623.0C273.3 1620.5 286.7 1617.9 300.0 1615.4C313.3 1612.9 326.7 1610.7 340.0 1608.2C353.3 1605.7 369.4 1602.5 380.0 1600.4C390.6 1598.3 395.0 1597.3 403.5 1595.8C412.0 1594.3 420.8 1593.1 430.8 1591.6C440.8 1590.1 452.3 1588.4 463.3 1587.0C474.3 1585.6 485.6 1584.5 496.7 1583.0C507.8 1581.5 518.9 1580.0 530.0 1578.0C541.1 1576.0 552.2 1573.7 563.3 1570.7C574.4 1567.7 586.8 1564.0 596.7 1560.0C606.6 1556.0 613.6 1552.0 622.5 1547.0C631.4 1542.0 642.4 1534.7 650.0 1530.0C657.6 1525.3 661.9 1523.5 668.1 1519.0C674.3 1514.5 680.8 1508.1 687.1 1502.9C693.5 1497.7 699.9 1492.0 706.2 1487.6C712.6 1483.1 718.9 1479.4 725.2 1476.2C731.6 1473.0 737.9 1470.3 744.3 1468.2C750.6 1466.1 759.0 1464.7 763.3 1463.8C767.6 1462.9 768.9 1463.1 770.0 1462.9"/>
<path class="cv" stroke="#1c2962" d="M768.9 1548.4C764.1 1548.9 749.4 1549.9 740.0 1551.5C730.6 1553.1 720.2 1556.1 712.4 1558.2C704.6 1560.3 699.6 1562.0 693.3 1563.9C686.9 1565.8 680.6 1567.5 674.3 1569.6C667.9 1571.7 661.6 1574.1 655.2 1576.3C648.9 1578.5 642.6 1580.5 636.2 1582.9C629.9 1585.3 623.5 1588.1 617.1 1590.5C610.8 1592.9 604.5 1595.1 598.1 1597.2C591.8 1599.3 585.4 1601.1 579.0 1603.0C572.6 1604.9 565.7 1607.0 560.0 1608.8C554.3 1610.6 550.1 1612.1 545.0 1614.0C539.9 1615.9 534.0 1618.2 529.5 1620.0C525.0 1621.8 521.9 1623.2 518.1 1624.8C514.3 1626.4 510.5 1628.3 506.7 1629.5C502.9 1630.7 500.3 1631.2 495.2 1631.8C490.1 1632.4 482.5 1632.7 476.2 1633.0C469.9 1633.3 463.5 1633.5 457.1 1633.7C450.8 1633.9 444.5 1634.0 438.1 1634.3C431.8 1634.5 424.8 1634.8 419.0 1635.2C413.2 1635.6 410.0 1636.2 403.5 1636.5C397.0 1636.8 390.6 1637.0 380.0 1637.2C369.4 1637.4 353.3 1637.7 340.0 1637.8C326.7 1637.9 313.3 1637.4 300.0 1637.8C286.7 1638.2 273.3 1639.1 260.0 1640.0C246.7 1640.9 233.3 1641.7 220.0 1643.0C206.7 1644.3 193.3 1646.4 180.0 1647.8C166.7 1649.2 151.8 1650.6 140.0 1651.6C128.2 1652.6 114.6 1653.6 109.5 1654.0C109.5 1653.9 104.4 1654.8 109.5 1653.3C114.6 1651.8 128.2 1647.3 140.0 1644.8C151.8 1642.2 166.7 1640.2 180.0 1638.0C193.3 1635.8 206.7 1633.8 220.0 1631.5C233.3 1629.2 246.7 1626.9 260.0 1624.5C273.3 1622.1 286.7 1619.5 300.0 1617.1C313.3 1614.7 326.7 1612.7 340.0 1610.3C353.3 1607.9 369.4 1605.1 380.0 1602.9C390.6 1600.7 395.0 1598.9 403.5 1597.1C412.0 1595.3 420.8 1593.8 430.8 1592.2C440.8 1590.6 452.3 1588.8 463.3 1587.3C474.3 1585.8 485.6 1584.8 496.7 1583.3C507.8 1581.8 518.9 1580.5 530.0 1578.3C541.1 1576.1 552.5 1573.3 563.3 1570.0C574.1 1566.7 585.1 1562.5 595.0 1558.5C604.9 1554.5 613.3 1550.8 622.5 1545.7C631.7 1540.6 643.4 1532.3 650.0 1528.0C656.6 1523.7 657.8 1523.7 662.4 1520.0C667.0 1516.3 671.9 1510.8 677.6 1505.7C683.3 1500.6 690.4 1494.4 696.7 1489.5C703.1 1484.6 709.4 1480.0 715.7 1476.2C722.1 1472.4 728.4 1469.2 734.8 1466.7C741.1 1464.2 747.9 1462.5 753.8 1461.5C759.7 1460.5 764.3 1460.7 770.0 1460.8C775.7 1460.9 782.9 1461.7 788.1 1462.2C793.3 1462.7 797.9 1463.4 801.4 1463.8C804.9 1464.2 807.7 1464.5 809.0 1464.6C808.6 1465.7 808.2 1468.2 806.7 1471.1C805.2 1474.0 802.6 1478.5 800.0 1482.2C797.4 1485.9 794.4 1489.8 791.1 1493.3C787.8 1496.8 783.3 1500.7 780.0 1503.3C776.7 1505.9 772.6 1508.0 771.1 1508.9"/>
<path class="cv" stroke="#27aae1" d="M768.9 1551.2C764.1 1551.6 749.4 1552.1 740.0 1553.5C730.6 1554.9 720.2 1557.6 712.4 1559.5C704.6 1561.4 699.6 1563.1 693.3 1565.0C686.9 1566.9 680.6 1568.7 674.3 1570.8C667.9 1572.9 661.6 1575.2 655.2 1577.5C648.9 1579.8 642.6 1581.9 636.2 1584.3C629.9 1586.7 623.5 1589.4 617.1 1591.9C610.8 1594.4 604.5 1597.0 598.1 1599.5C591.8 1602.0 585.4 1604.7 579.0 1607.1C572.6 1609.5 565.1 1611.6 560.0 1613.8C554.9 1616.0 553.1 1618.2 548.6 1620.0C544.1 1621.8 539.0 1622.9 533.3 1624.8C527.6 1626.7 520.6 1629.0 514.3 1631.4C507.9 1633.8 501.5 1636.5 495.2 1639.0C488.9 1641.5 482.5 1644.5 476.2 1646.7C469.9 1648.9 463.5 1650.7 457.1 1652.4C450.8 1654.1 444.5 1655.7 438.1 1657.1C431.8 1658.5 424.8 1659.8 419.0 1661.0C413.2 1662.2 411.1 1663.3 403.5 1664.2C395.9 1665.1 382.2 1666.2 373.3 1666.5C364.4 1666.8 358.3 1666.3 350.0 1665.7C341.7 1665.1 333.3 1663.8 323.3 1662.7C313.3 1661.6 301.1 1660.2 290.0 1659.3C278.9 1658.4 267.8 1657.7 256.7 1657.3C245.6 1656.9 234.4 1656.6 223.3 1656.7C212.2 1656.8 201.1 1657.4 190.0 1657.7C178.9 1658.0 167.8 1657.9 156.7 1658.3C145.6 1658.7 131.1 1659.5 123.3 1660.0C115.5 1660.5 112.2 1661.1 110.0 1661.3C109.9 1661.2 108.0 1661.7 109.5 1661.0C111.0 1660.3 113.9 1658.8 119.0 1657.1C124.1 1655.4 129.8 1653.0 140.0 1650.7C150.2 1648.4 166.7 1645.8 180.0 1643.5C193.3 1641.2 206.7 1639.0 220.0 1636.7C233.3 1634.4 246.7 1632.2 260.0 1629.8C273.3 1627.4 286.7 1625.1 300.0 1622.6C313.3 1620.1 326.7 1617.5 340.0 1614.6C353.3 1611.7 369.4 1608.1 380.0 1605.4C390.6 1602.7 395.0 1600.5 403.5 1598.4C412.0 1596.3 420.8 1594.7 430.8 1592.9C440.8 1591.1 452.3 1589.4 463.3 1587.7C474.3 1586.0 485.6 1584.7 496.7 1582.7C507.8 1580.8 518.9 1578.7 530.0 1576.0C541.1 1573.3 552.5 1570.2 563.3 1566.5C574.1 1562.8 585.1 1558.5 595.0 1553.9C604.9 1549.3 616.7 1542.3 622.5 1539.0C628.3 1535.7 625.6 1537.5 630.0 1534.3C634.4 1531.1 642.6 1525.5 649.0 1520.0C655.4 1514.5 661.8 1507.7 668.1 1501.0C674.5 1494.3 680.8 1486.4 687.1 1480.0C693.5 1473.6 699.9 1467.7 706.2 1462.5C712.6 1457.3 718.9 1452.5 725.2 1449.0C731.6 1445.5 738.6 1443.3 744.3 1441.8C750.0 1440.3 754.7 1440.4 759.5 1440.2C764.3 1440.0 768.1 1440.1 772.9 1440.7C777.7 1441.3 783.4 1442.7 788.1 1443.8C792.9 1444.9 797.9 1446.3 801.4 1447.3C804.9 1448.3 807.7 1449.5 809.0 1450.0C808.4 1452.4 807.5 1459.8 805.6 1464.4C803.7 1469.0 800.6 1473.9 797.8 1477.8C795.0 1481.7 791.9 1484.8 788.9 1487.8C785.9 1490.8 783.0 1493.2 780.0 1495.6C777.0 1498.0 772.6 1501.1 771.1 1502.2"/>
<path class="cv" stroke="#0db14b" d="M768.9 1553.9C764.1 1554.2 749.4 1554.4 740.0 1555.5C730.6 1556.6 720.2 1558.8 712.4 1560.5C704.6 1562.2 699.6 1564.0 693.3 1565.8C686.9 1567.6 680.6 1569.4 674.3 1571.5C667.9 1573.6 661.6 1576.0 655.2 1578.5C648.9 1581.0 642.6 1583.3 636.2 1586.2C629.9 1589.1 623.5 1592.5 617.1 1595.7C610.8 1598.9 604.5 1602.0 598.1 1605.2C591.8 1608.4 585.4 1611.5 579.0 1614.8C572.6 1618.1 564.4 1622.8 560.0 1625.2C555.6 1627.7 556.9 1627.5 552.4 1629.5C547.9 1631.5 539.6 1634.4 533.3 1637.1C526.9 1639.8 520.6 1642.8 514.3 1645.7C507.9 1648.6 501.5 1651.3 495.2 1654.3C488.9 1657.3 482.5 1660.6 476.2 1663.8C469.9 1667.0 463.5 1669.8 457.1 1673.3C450.8 1676.8 444.5 1680.7 438.1 1684.8C431.8 1688.9 424.7 1693.8 419.0 1698.1C413.3 1702.3 409.6 1706.6 404.1 1710.3C398.7 1714.0 392.4 1717.3 386.3 1720.2C380.2 1723.1 373.6 1725.8 367.3 1727.5C361.0 1729.2 354.7 1730.1 348.3 1730.3C341.9 1730.5 336.1 1729.9 329.2 1728.7C322.3 1727.5 313.5 1725.3 307.0 1723.3C300.5 1721.3 295.3 1718.6 290.0 1716.5C284.7 1714.4 280.8 1712.9 275.2 1710.6C269.6 1708.3 262.0 1704.6 256.7 1702.5C251.4 1700.4 249.1 1699.7 243.5 1697.9C237.9 1696.1 229.4 1693.2 223.3 1691.7C217.2 1690.2 212.2 1689.7 206.7 1689.0C201.1 1688.3 195.6 1687.8 190.0 1687.3C184.4 1686.8 178.9 1686.2 173.3 1685.7C167.8 1685.2 162.2 1684.6 156.7 1684.3C151.1 1684.0 145.6 1684.0 140.0 1684.0C134.4 1684.0 128.3 1684.0 123.3 1684.0C118.3 1684.0 112.2 1684.0 110.0 1684.0C109.9 1683.8 109.0 1683.9 109.5 1682.9C110.0 1681.9 111.1 1679.8 113.3 1678.1C115.5 1676.3 118.5 1674.1 122.9 1672.4C127.4 1670.7 133.6 1669.6 140.0 1667.7C146.4 1665.8 154.6 1663.1 161.2 1661.3C167.8 1659.5 173.5 1658.2 179.8 1656.7C186.2 1655.2 192.6 1653.6 199.3 1652.0C206.0 1650.4 209.9 1649.3 220.0 1646.9C230.1 1644.5 246.7 1640.7 260.0 1637.5C273.3 1634.3 286.7 1631.0 300.0 1627.7C313.3 1624.4 326.7 1621.3 340.0 1617.9C353.3 1614.5 369.4 1610.3 380.0 1607.3C390.6 1604.2 395.0 1601.9 403.5 1599.6C412.0 1597.3 420.8 1595.4 430.8 1593.3C440.8 1591.2 452.3 1589.0 463.3 1587.0C474.3 1585.0 485.6 1583.2 496.7 1581.0C507.8 1578.8 518.9 1576.5 530.0 1574.0C541.1 1571.5 552.5 1569.0 563.3 1566.0C574.1 1563.0 585.1 1559.8 595.0 1556.0C604.9 1552.2 616.7 1546.0 622.5 1543.0C628.3 1540.0 625.6 1541.0 630.0 1538.1C634.4 1535.2 642.6 1530.9 649.0 1525.7C655.4 1520.5 662.7 1512.7 668.1 1506.7C673.5 1500.7 677.3 1495.5 681.4 1489.5C685.5 1483.5 689.4 1476.5 692.9 1470.5C696.4 1464.5 699.5 1458.4 702.4 1453.3C705.2 1448.2 707.4 1444.1 710.0 1440.0C712.6 1435.9 714.6 1433.0 717.8 1428.9C720.9 1424.8 725.2 1419.7 728.9 1415.6C732.6 1411.5 736.3 1407.4 740.0 1404.4C743.7 1401.4 747.4 1399.3 751.1 1397.8C754.8 1396.2 758.5 1395.3 762.2 1395.1C765.9 1394.9 769.6 1395.7 773.3 1396.7C777.0 1397.7 780.7 1399.2 784.4 1401.1C788.1 1402.9 792.3 1405.9 795.6 1407.8C798.9 1409.7 802.2 1411.0 804.4 1412.2C806.6 1413.4 808.1 1414.6 808.9 1415.1C808.7 1417.0 808.5 1422.2 807.8 1426.7C807.0 1431.2 806.1 1436.7 804.4 1442.2C802.7 1447.8 800.4 1454.8 797.8 1460.0C795.2 1465.2 791.9 1469.4 788.9 1473.3C785.9 1477.2 783.0 1480.1 780.0 1483.3C777.0 1486.5 772.6 1490.7 771.1 1492.2"/>
<path class="cv" stroke="#fdc010" d="M768.9 1555.8C764.1 1556.0 749.4 1556.3 740.0 1557.3C730.6 1558.2 720.2 1560.0 712.4 1561.5C704.6 1563.0 699.6 1564.7 693.3 1566.5C686.9 1568.3 680.6 1570.1 674.3 1572.3C667.9 1574.5 661.6 1577.0 655.2 1579.5C648.9 1582.0 642.6 1584.1 636.2 1587.1C629.9 1590.1 623.5 1593.8 617.1 1597.6C610.8 1601.4 604.5 1605.7 598.1 1610.0C591.8 1614.3 585.4 1619.0 579.0 1623.3C572.6 1627.6 564.4 1632.6 560.0 1635.7C555.6 1638.8 556.9 1638.8 552.4 1641.9C547.9 1645.0 539.6 1650.0 533.3 1654.3C526.9 1658.6 520.6 1663.1 514.3 1667.6C507.9 1672.0 501.5 1676.7 495.2 1681.0C488.9 1685.3 482.5 1689.2 476.2 1693.3C469.9 1697.4 463.5 1701.2 457.1 1705.7C450.8 1710.2 444.1 1715.4 438.1 1720.0C432.1 1724.6 427.1 1728.5 421.3 1733.5C415.6 1738.5 408.1 1745.7 403.6 1749.7C399.1 1753.7 397.5 1754.9 394.1 1757.7C390.8 1760.5 387.0 1764.0 383.5 1766.7C380.0 1769.4 376.4 1771.9 372.9 1774.1C369.4 1776.3 365.8 1778.1 362.3 1779.9C358.8 1781.8 355.2 1783.6 351.7 1785.2C348.2 1786.8 344.8 1788.4 341.2 1789.4C337.6 1790.4 333.6 1790.9 330.0 1791.0C326.4 1791.1 324.2 1790.9 319.9 1790.0C315.6 1789.1 309.4 1787.5 304.1 1785.7C298.8 1783.9 293.5 1781.6 288.2 1778.9C282.9 1776.2 278.5 1772.9 272.3 1769.3C266.1 1765.7 258.2 1760.8 251.2 1757.2C244.1 1753.6 237.4 1750.6 230.0 1747.6C222.6 1744.6 213.4 1741.7 206.7 1739.3C200.0 1736.9 195.6 1735.0 190.0 1733.3C184.4 1731.6 178.9 1730.4 173.3 1729.3C167.8 1728.2 162.2 1727.5 156.7 1726.7C151.1 1725.9 145.6 1725.0 140.0 1724.3C134.4 1723.6 128.2 1722.9 123.3 1722.7C118.4 1722.5 112.8 1723.2 110.7 1723.3C110.5 1723.1 109.1 1723.6 109.5 1721.9C109.9 1720.2 111.1 1716.2 113.3 1713.3C115.5 1710.4 118.5 1707.7 122.9 1704.8C127.4 1701.9 133.6 1699.2 140.0 1696.0C146.4 1692.8 154.6 1688.6 161.2 1685.9C167.8 1683.2 173.5 1682.1 179.8 1680.0C186.2 1677.9 192.6 1675.5 199.3 1673.2C206.0 1670.9 209.9 1669.8 220.0 1666.4C230.1 1663.0 246.7 1657.4 260.0 1653.0C273.3 1648.6 286.7 1644.8 300.0 1640.0C313.3 1635.2 326.7 1629.0 340.0 1623.9C353.3 1618.8 369.4 1613.4 380.0 1609.6C390.6 1605.8 395.0 1603.5 403.5 1600.9C412.0 1598.3 420.8 1596.4 430.8 1594.1C440.8 1591.8 452.3 1589.2 463.3 1586.9C474.3 1584.6 485.6 1582.4 496.7 1580.2C507.8 1578.0 518.9 1575.9 530.0 1573.5C541.1 1571.1 552.5 1568.7 563.3 1566.0C574.1 1563.3 585.1 1560.9 595.0 1557.5C604.9 1554.1 616.7 1548.2 622.5 1545.5C628.3 1542.8 625.6 1543.7 630.0 1541.0C634.4 1538.3 642.6 1534.4 649.0 1529.5C655.4 1524.6 662.7 1517.4 668.1 1511.4C673.5 1505.4 677.3 1499.8 681.4 1493.3C685.5 1486.8 689.7 1478.6 692.9 1472.4C696.1 1466.2 698.1 1461.6 700.5 1456.2C702.9 1450.8 704.6 1446.0 707.5 1440.0C710.4 1434.0 714.8 1427.0 718.1 1420.0C721.5 1413.0 724.4 1405.2 727.6 1398.1C730.8 1390.9 733.9 1383.4 737.1 1377.1C740.3 1370.8 743.5 1365.4 746.7 1360.0C749.9 1354.6 753.0 1348.9 756.2 1344.8C759.4 1340.7 761.9 1337.9 765.7 1335.2C769.5 1332.5 774.9 1329.5 779.0 1328.6C783.1 1327.7 787.0 1328.5 790.5 1329.9C794.0 1331.3 796.9 1334.5 800.0 1337.1C803.1 1339.7 807.6 1344.3 809.1 1345.7C809.0 1349.3 809.2 1360.8 808.6 1367.6C808.0 1374.4 806.8 1380.7 805.7 1386.7C804.6 1392.7 803.5 1397.8 801.9 1403.8C800.3 1409.8 798.1 1416.9 796.2 1422.9C794.3 1428.9 792.5 1434.9 790.5 1440.0C788.5 1445.1 786.5 1448.7 784.4 1453.3C782.3 1457.9 780.0 1463.5 777.8 1467.8C775.6 1472.1 772.1 1477.1 771.0 1479.0"/>
<path class="cv" stroke="#be1e2d" d="M768.9 1557.5C764.1 1557.7 746.2 1558.3 740.0 1558.6C733.8 1558.9 736.0 1558.9 731.4 1559.5C726.8 1560.1 718.8 1561.1 712.4 1562.4C706.0 1563.7 699.6 1565.3 693.3 1567.1C686.9 1568.8 680.6 1570.7 674.3 1572.9C667.9 1575.1 661.6 1577.7 655.2 1580.5C648.9 1583.3 642.6 1586.5 636.2 1590.0C629.9 1593.5 623.5 1597.3 617.1 1601.4C610.8 1605.5 604.5 1610.2 598.1 1614.8C591.8 1619.4 585.4 1624.1 579.0 1629.0C572.6 1633.9 564.4 1641.0 560.0 1644.3C555.6 1647.6 556.9 1645.3 552.4 1648.6C547.9 1651.8 539.6 1658.4 533.3 1663.8C526.9 1669.2 520.6 1675.3 514.3 1681.0C507.9 1686.7 501.5 1692.5 495.2 1698.1C488.9 1703.6 482.2 1709.3 476.2 1714.3C470.2 1719.3 464.5 1723.7 459.4 1728.0C454.3 1732.3 452.0 1734.7 445.7 1740.0C439.4 1745.3 428.3 1753.3 421.3 1759.8C414.3 1766.3 409.0 1773.5 403.6 1778.8C398.2 1784.1 392.9 1788.0 388.8 1791.5C384.8 1795.0 383.4 1796.2 379.3 1800.0C375.2 1803.8 369.3 1810.4 364.1 1814.5C358.9 1818.6 352.7 1822.2 348.3 1824.5C343.9 1826.8 341.1 1827.3 338.0 1828.3C334.9 1829.2 332.1 1829.6 330.0 1830.2C327.9 1830.8 327.8 1831.2 325.2 1831.8C322.6 1832.4 318.2 1833.6 314.7 1833.9C311.2 1834.2 307.6 1834.2 304.1 1833.7C300.6 1833.2 297.0 1831.9 293.5 1830.7C290.0 1829.5 286.4 1828.3 282.9 1826.5C279.4 1824.7 276.7 1822.8 272.3 1820.1C267.9 1817.4 261.8 1813.9 256.5 1810.6C251.2 1807.2 245.0 1802.9 240.6 1800.0C236.2 1797.1 234.1 1795.5 230.0 1793.1C225.9 1790.7 220.1 1787.6 216.2 1785.7C212.3 1783.8 211.1 1783.4 206.7 1781.8C202.3 1780.2 195.6 1778.1 190.0 1776.0C184.4 1773.9 178.9 1771.4 173.3 1769.3C167.8 1767.2 162.2 1765.1 156.7 1763.3C151.1 1761.5 145.6 1759.7 140.0 1758.3C134.4 1756.9 128.3 1755.7 123.3 1755.0C118.3 1754.3 112.2 1754.2 110.0 1754.0C110.4 1752.5 111.3 1747.6 112.5 1745.0C113.7 1742.4 114.4 1741.3 117.1 1738.5C119.8 1735.7 124.8 1731.1 128.6 1728.0C132.4 1724.9 134.9 1723.2 140.0 1720.0C145.1 1716.8 152.4 1712.4 159.0 1708.6C165.6 1704.8 173.0 1700.2 179.8 1696.9C186.6 1693.6 193.3 1691.1 200.0 1688.5C206.7 1685.9 210.0 1685.4 220.0 1681.5C230.0 1677.6 246.7 1670.5 260.0 1665.0C273.3 1659.5 286.7 1654.3 300.0 1648.4C313.3 1642.5 326.7 1635.8 340.0 1629.8C353.3 1623.8 369.4 1616.9 380.0 1612.4C390.6 1607.9 395.0 1605.8 403.5 1603.0C412.0 1600.2 420.8 1598.1 430.8 1595.4C440.8 1592.7 452.3 1589.3 463.3 1586.7C474.3 1584.1 485.6 1582.2 496.7 1580.0C507.8 1577.8 518.2 1575.6 530.0 1573.3C541.8 1571.0 556.7 1568.5 567.5 1566.0C578.3 1563.5 585.8 1561.6 595.0 1558.6C604.2 1555.6 616.7 1550.5 622.5 1548.0C628.3 1545.5 625.6 1546.2 630.0 1543.8C634.4 1541.3 642.6 1538.1 649.0 1533.3C655.4 1528.5 662.7 1521.5 668.1 1515.2C673.5 1508.9 677.6 1502.0 681.4 1495.2C685.2 1488.4 688.1 1481.0 691.0 1474.3C693.9 1467.6 696.4 1460.9 698.6 1455.2C700.9 1449.5 702.4 1445.5 704.5 1440.0C706.6 1434.5 709.0 1428.0 711.3 1422.0C713.5 1416.0 715.7 1409.9 718.0 1404.0C720.3 1398.1 722.2 1393.7 725.0 1386.5C727.8 1379.3 731.3 1369.4 734.7 1361.0C738.1 1352.6 742.2 1343.5 745.5 1336.0C748.8 1328.5 751.4 1322.9 754.5 1316.0C757.6 1309.1 761.3 1300.4 764.4 1294.4C767.5 1288.4 770.7 1283.9 773.3 1280.0C775.9 1276.1 777.8 1273.5 780.0 1271.1C782.2 1268.7 784.5 1266.7 786.7 1265.6C788.9 1264.5 791.1 1264.5 793.3 1264.4C795.5 1264.3 798.0 1264.3 800.0 1265.1C802.0 1265.8 804.1 1267.5 805.6 1268.9C807.1 1270.3 808.4 1272.6 808.9 1273.3C808.7 1276.8 808.4 1287.0 807.8 1294.4C807.2 1301.9 806.2 1310.2 805.2 1318.0C804.2 1325.8 803.2 1333.0 802.0 1341.0C800.8 1349.0 799.4 1358.1 798.0 1366.0C796.6 1373.9 795.2 1380.7 793.4 1388.5C791.6 1396.3 789.2 1404.8 787.0 1413.0C784.8 1421.2 781.9 1431.7 780.0 1438.0C778.1 1444.3 777.2 1447.3 775.6 1451.1C774.0 1454.8 771.4 1458.9 770.5 1460.5"/>
<path class="ax" d="M35.5 1555.6H916.5M36.5 1555.6v-14M110.0 1555.6v-14M183.5 1555.6v-14M257.0 1555.6v-14M330.3 1555.6v-14M403.5 1555.6v-14M476.6 1555.6v-14M549.8 1555.6v-14M623.0 1555.6v-14M696.1 1555.6v-14M769.2 1555.6v-14M842.4 1555.6v-14M915.5 1555.6v-14M403.5 1267.6V1844.0M403.5 1843.0h14M403.5 1771.2h14M403.5 1699.3h14M403.5 1627.5h14M403.5 1555.6h14M403.5 1484.1h14M403.5 1411.9h14M403.5 1340.2h14M403.5 1268.6h14"/>
<g class="t">
<text transform="scale(0.89 1)" y="1604.1"><tspan x="-0.41" dy="3.8" textLength="30.40" lengthAdjust="spacingAndGlyphs">−</tspan><tspan x="30.75 51.37 62.21" dy="-3.8">0.5</tspan></text>
<text transform="scale(0.89 1)" y="1604.1"><tspan x="82.18" dy="3.8" textLength="30.40" lengthAdjust="spacingAndGlyphs">−</tspan><tspan x="113.33 133.95 144.79" dy="-3.8">0.4</tspan></text>
<text transform="scale(0.89 1)" y="1604.1"><tspan x="164.76" dy="3.8" textLength="30.40" lengthAdjust="spacingAndGlyphs">−</tspan><tspan x="195.92 216.54 227.38" dy="-3.8">0.3</tspan></text>
<text transform="scale(0.89 1)" y="1604.1"><tspan x="247.35" dy="3.8" textLength="30.40" lengthAdjust="spacingAndGlyphs">−</tspan><tspan x="278.50 299.12 309.96" dy="-3.8">0.2</tspan></text>
<text transform="scale(0.89 1)" y="1604.1"><tspan x="332.53" dy="3.8" textLength="30.40" lengthAdjust="spacingAndGlyphs">−</tspan><tspan x="363.69 384.31 392.68" dy="-3.8">0.1</tspan></text>
<text transform="scale(0.89 1)" x="444.01" y="1604.1">0</text>
<text transform="scale(0.89 1)" x="513.24 533.86 542.23" y="1604.1">0.1</text>
<text transform="scale(0.89 1)" x="592.66 613.28 624.12" y="1604.1">0.2</text>
<text transform="scale(0.89 1)" x="674.91 695.52 706.37" y="1604.1">0.3</text>
<text transform="scale(0.89 1)" x="757.04 777.66 788.50" y="1604.1">0.4</text>
<text transform="scale(0.89 1)" x="839.18 859.79 870.64" y="1604.1">0.5</text>
<text transform="scale(0.89 1)" x="921.42 942.04 952.88" y="1604.1">0.6</text>
<text transform="scale(0.89 1)" x="1003.56 1024.18 1035.02" y="1604.1">0.7</text>
<text transform="scale(0.89 1)" y="1855.7"><tspan x="331.95" dy="3.8" textLength="30.40" lengthAdjust="spacingAndGlyphs">−</tspan><tspan x="363.10 383.72 394.56 415.58" dy="-3.8">0.20</tspan></text>
<text transform="scale(0.89 1)" y="1783.9"><tspan x="335.32" dy="3.8" textLength="30.40" lengthAdjust="spacingAndGlyphs">−</tspan><tspan x="366.48 387.09 395.46 415.58" dy="-3.8">0.15</tspan></text>
<text transform="scale(0.89 1)" y="1712.0"><tspan x="335.32" dy="3.8" textLength="30.40" lengthAdjust="spacingAndGlyphs">−</tspan><tspan x="366.48 387.09 395.46 415.58" dy="-3.8">0.10</tspan></text>
<text transform="scale(0.89 1)" y="1640.2"><tspan x="331.95" dy="3.8" textLength="30.40" lengthAdjust="spacingAndGlyphs">−</tspan><tspan x="363.10 383.72 394.56 415.58" dy="-3.8">0.05</tspan></text>
<text transform="scale(0.89 1)" x="415.58" y="1568.3">0</text>
<text transform="scale(0.89 1)" x="363.10 383.72 394.56 415.58" y="1496.8">0.05</text>
<text transform="scale(0.89 1)" x="366.48 387.09 395.46 415.58" y="1424.6">0.10</text>
<text transform="scale(0.89 1)" x="366.48 387.09 395.46 415.58" y="1352.9">0.15</text>
<text transform="scale(0.89 1)" x="363.10 383.72 394.56 415.58" y="1281.3">0.20</text>
<text x="76.7" y="1320.0" textLength="40.3" lengthAdjust="spacingAndGlyphs">Ni</text>
<text y="1523.8"><tspan class="i" x="64.5" textLength="27.6" lengthAdjust="spacingAndGlyphs">E</tspan><tspan x="89.0" textLength="43.2" lengthAdjust="spacingAndGlyphs">, В</tspan></text>
<text transform="translate(298.0 1443.6) rotate(-90)" y="0"><tspan class="i" x="0">i,</tspan><tspan x="31.0" textLength="25.7" lengthAdjust="spacingAndGlyphs">А</tspan><tspan x="56.7" textLength="14.3" lengthAdjust="spacingAndGlyphs">/</tspan><tspan x="71.1" textLength="41.5" lengthAdjust="spacingAndGlyphs">см</tspan><tspan x="111.2" dy="-12.7" textLength="16.2" lengthAdjust="spacingAndGlyphs" style="font-size:26.5px">2</tspan></text>
</g>
</g>
<g id="legends">
<path class="lg" stroke="#231f20" d="M623.3 473.4H675.6"/>
<text transform="scale(0.89 1)" x="764.46 785.08 795.92 816.93" y="486.2">0.03</text>
<path class="lg" stroke="#1c2962" d="M777.6 473.4H829.7"/>
<text transform="scale(0.89 1)" x="937.95 958.56 966.93" y="486.2">0.1</text>
<path class="lg" stroke="#1c75bc" d="M623.3 519.0H675.6"/>
<text transform="scale(0.89 1)" x="764.46 785.08 795.92" y="531.4">0.2</text>
<path class="lg" stroke="#0db14b" d="M777.6 519.0H829.7"/>
<text transform="scale(0.89 1)" x="937.95 958.56 969.41" y="531.4">0.5</text>
<path class="lg" stroke="#fdc010" d="M623.3 564.1H675.6"/>
<text transform="scale(0.89 1)" x="763.90" y="576.4">1</text>
<path class="lg" stroke="#be1e2d" d="M777.6 564.1H829.7"/>
<text transform="scale(0.89 1)" x="937.38 955.64 966.48" y="576.4">1.5</text>
<path class="lg" stroke="#231f20" d="M611.3 1104.6H664.3"/>
<text transform="scale(0.89 1)" x="753.11 773.73 784.57 805.59" y="1117.2">0.03</text>
<path class="lg" stroke="#1c2962" d="M771.2 1104.6H823.3"/>
<text transform="scale(0.89 1)" x="931.43 952.05 960.42" y="1117.2">0.1</text>
<path class="lg" stroke="#27aae1" d="M611.3 1144.8H664.3"/>
<text transform="scale(0.89 1)" x="753.11 773.73 784.57" y="1157.3">0.2</text>
<path class="lg" stroke="#0db14b" d="M771.2 1144.8H823.3"/>
<text transform="scale(0.89 1)" x="931.43 952.05 962.89" y="1157.3">0.5</text>
<path class="lg" stroke="#fdc010" d="M611.3 1185.0H664.3"/>
<text transform="scale(0.89 1)" x="752.55" y="1198.3">1</text>
<path class="lg" stroke="#be1e2d" d="M771.2 1185.0H823.3"/>
<text transform="scale(0.89 1)" x="930.87 949.12 959.97" y="1198.3">1.5</text>
<path class="lg" stroke="#231f20" d="M588.2 1748.3H640.8"/>
<text transform="scale(0.89 1)" x="726.37 746.99 757.83 778.84" y="1756.5">0.07</text>
<path class="lg" stroke="#1c2962" d="M763.7 1748.3H816.1"/>
<text transform="scale(0.89 1)" x="925.70 946.32 954.69" y="1756.5">0.1</text>
<path class="lg" stroke="#27aae1" d="M588.2 1783.3H640.8"/>
<text transform="scale(0.89 1)" x="726.37 746.99 757.83" y="1793.3">0.2</text>
<path class="lg" stroke="#0db14b" d="M763.7 1783.3H816.1"/>
<text transform="scale(0.89 1)" x="925.70 946.32 957.16" y="1793.3">0.5</text>
<path class="lg" stroke="#fdc010" d="M588.2 1818.3H640.8"/>
<text transform="scale(0.89 1)" x="725.81" y="1830.1">1</text>
<path class="lg" stroke="#be1e2d" d="M763.7 1818.3H816.1"/>
<text transform="scale(0.89 1)" x="925.14 943.39 954.24" y="1830.1">1.5</text>
</g>
</svg>
</body>
</html>
